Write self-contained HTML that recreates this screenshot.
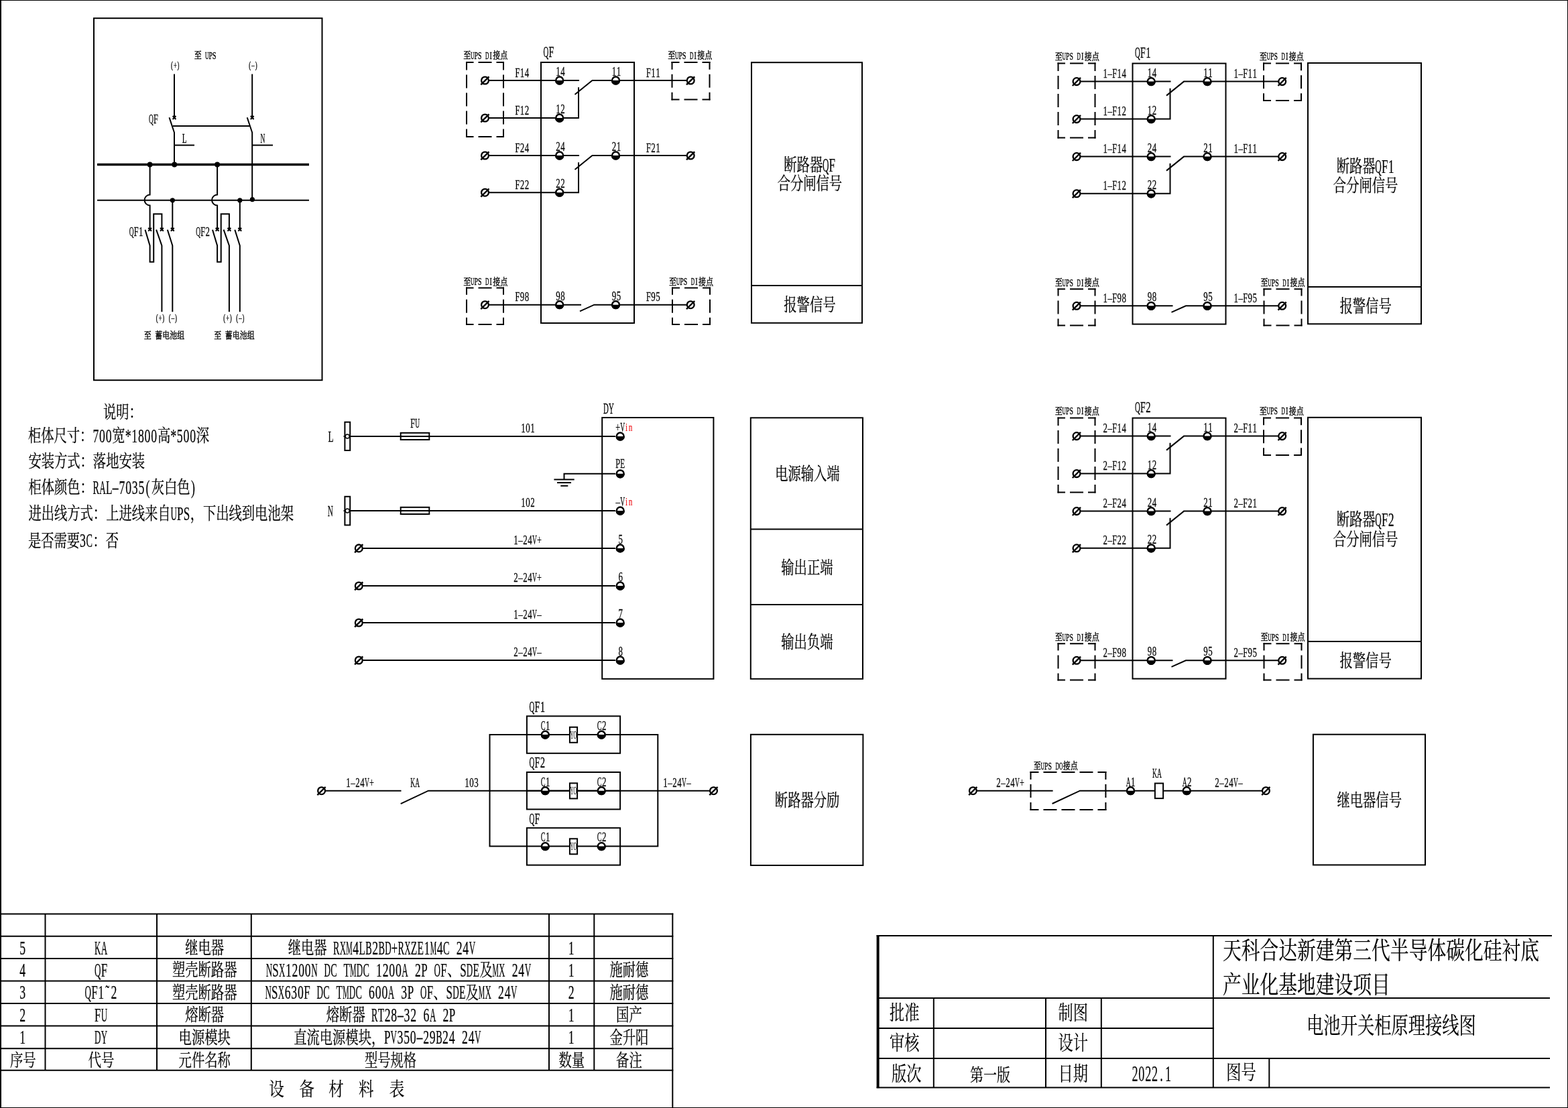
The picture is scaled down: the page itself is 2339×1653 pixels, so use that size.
<!DOCTYPE html>
<html lang="zh"><head><meta charset="utf-8"><title>电池开关柜原理接线图</title>
<style>
html,body{margin:0;padding:0;background:#fff}
svg{display:block;will-change:transform}
svg text{font-family:"Liberation Serif","Noto Serif CJK SC",serif;fill:#000;stroke:#000;stroke-linejoin:round}
svg .s{fill:none;stroke:#000;stroke-linecap:butt;stroke-linejoin:miter}
svg .g{fill:#000;stroke:#000;stroke-linejoin:round}
</style></head><body>
<svg width="2339" height="1653" viewBox="0 0 2339 1653">
<defs>
<g id="T"><circle r="5.4" fill="#fff" stroke="#000" stroke-width="2.5"/><path d="M-6.6 0A6.6 6.6 0 0 0 6.6 0Z" fill="#000" stroke="none"/></g>
<g id="P"><circle r="5.4" fill="#fff" stroke="#000" stroke-width="2.3"/><path d="M-6.2 6.4L6 -5.7" stroke="#000" stroke-width="2.4"/></g>
</defs>
<rect width="2339" height="1653" fill="#fff"/>
<g class="s">
<path d="M1 0V1653" stroke-width="2"/>
<path d="M0 0.5H2339" stroke-width="1"/>
<path d="M2338.5 0V1653" stroke-width="1"/>
<path d="M0 1652.5H2339" stroke-width="1"/>
<rect x="140" y="27.2" width="340.5" height="540" stroke-width="2"/>
<g role="img" aria-label="至 UPS"><title>至 UPS</title><text y="87.48" font-size="14" stroke-width="0.4"><tspan x="289.72" textLength="10.99" lengthAdjust="spacingAndGlyphs">至</tspan></text><text y="87.7" font-size="15.08" stroke-width="0.4"><tspan x="306.06" textLength="5.39" lengthAdjust="spacingAndGlyphs">U</tspan><tspan x="311.56" textLength="5.39" lengthAdjust="spacingAndGlyphs">P</tspan><tspan x="317.06" textLength="5.39" lengthAdjust="spacingAndGlyphs">S</tspan></text></g>
<text y="102" font-size="13.52" stroke-width="0.4"><tspan x="255.06" textLength="2.88" lengthAdjust="spacingAndGlyphs">(</tspan><tspan x="258.9" textLength="4.61" lengthAdjust="spacingAndGlyphs">+</tspan><tspan x="264.46" textLength="2.88" lengthAdjust="spacingAndGlyphs">)</tspan></text>
<text y="102" font-size="13.52" stroke-width="0.4"><tspan x="371.26" textLength="2.88" lengthAdjust="spacingAndGlyphs">(</tspan><tspan x="375.24" textLength="4.32" lengthAdjust="spacingAndGlyphs">–</tspan><tspan x="380.66" textLength="2.88" lengthAdjust="spacingAndGlyphs">)</tspan></text>
<path d="M260 110.5L260 174" stroke-width="2"/>
<path d="M376.2 110.5L376.2 174" stroke-width="2"/>
<path d="M257.6 173.1l4.8 4.8M262.4 173.1l-4.8 4.8" stroke-width="2.1"/>
<path d="M373.8 173.1l4.8 4.8M378.6 173.1l-4.8 4.8" stroke-width="2.1"/>
<path d="M252.5 175.2L260 197.8L260 245.5" stroke-width="2"/>
<path d="M368.7 175.2L376.2 197.8L376.2 297.4" stroke-width="2"/>
<path d="M257.7 188L372.3 188" stroke-width="2"/>
<path d="M260 216.6L290 216.6" stroke-width="2"/>
<path d="M376.2 216.6L407 216.6" stroke-width="2"/>
<text y="212.6" font-size="19.76" stroke-width="0.26"><tspan x="271.87" textLength="6.86" lengthAdjust="spacingAndGlyphs">L</tspan></text>
<text y="213.2" font-size="19.76" stroke-width="0.26"><tspan x="388.47" textLength="6.86" lengthAdjust="spacingAndGlyphs">N</tspan></text>
<text y="184.2" font-size="19.76" stroke-width="0.26"><tspan x="222.07" textLength="6.86" lengthAdjust="spacingAndGlyphs">Q</tspan><tspan x="229.07" textLength="6.86" lengthAdjust="spacingAndGlyphs">F</tspan></text>
<path d="M145 245.5L461 245.5" stroke-width="3.6"/>
<path d="M145 298.8L461 298.8" stroke-width="2"/>
<circle cx="223.6" cy="245.5" r="3.9" fill="#000" stroke="none"/>
<circle cx="260.2" cy="245.5" r="3.9" fill="#000" stroke="none"/>
<circle cx="324.1" cy="245.5" r="3.9" fill="#000" stroke="none"/>
<circle cx="257.3" cy="298.8" r="3.6" fill="#000" stroke="none"/>
<circle cx="357.8" cy="298.8" r="3.6" fill="#000" stroke="none"/>
<circle cx="376.4" cy="297.6" r="3.6" fill="#000" stroke="none"/>
<path d="M223.6 245.5V290.5A8 8 0 0 0 223.6 306.5V341" stroke-width="2"/>
<path d="M221.2 339.9l4.8 4.8M226 339.9l-4.8 4.8" stroke-width="2.1"/>
<path d="M239 339.9l4.8 4.8M243.8 339.9l-4.8 4.8" stroke-width="2.1"/>
<path d="M254.9 339.9l4.8 4.8M259.7 339.9l-4.8 4.8" stroke-width="2.1"/>
<path d="M216.5 342.7L223.6 366.4L223.6 390.8L229.2 390.8L229.2 319.2L241.4 319.2L241.4 341" stroke-width="2"/>
<path d="M233.1 342.7L241.4 366.4L241.4 465.2" stroke-width="2"/>
<path d="M249.8 342.7L257.3 366.4L257.3 465.2" stroke-width="2"/>
<path d="M257.3 298.8L257.3 341" stroke-width="2"/>
<text y="352.4" font-size="19.76" stroke-width="0.26"><tspan x="192.87" textLength="6.86" lengthAdjust="spacingAndGlyphs">Q</tspan><tspan x="199.87" textLength="6.86" lengthAdjust="spacingAndGlyphs">F</tspan><tspan x="207.08" textLength="6.44" lengthAdjust="spacingAndGlyphs">1</tspan></text>
<text y="478.6" font-size="13.52" stroke-width="0.4"><tspan x="232.86" textLength="2.88" lengthAdjust="spacingAndGlyphs">(</tspan><tspan x="236.7" textLength="4.61" lengthAdjust="spacingAndGlyphs">+</tspan><tspan x="242.26" textLength="2.88" lengthAdjust="spacingAndGlyphs">)</tspan></text>
<text y="478.6" font-size="13.52" stroke-width="0.4"><tspan x="251.66" textLength="2.88" lengthAdjust="spacingAndGlyphs">(</tspan><tspan x="255.64" textLength="4.32" lengthAdjust="spacingAndGlyphs">–</tspan><tspan x="261.06" textLength="2.88" lengthAdjust="spacingAndGlyphs">)</tspan></text>
<g role="img" aria-label="至 蓄电池组"><title>至 蓄电池组</title><text y="504.98" font-size="14" stroke-width="0.4"><tspan x="214.72" textLength="10.99" lengthAdjust="spacingAndGlyphs">至</tspan><tspan x="231.2" textLength="43.96" lengthAdjust="spacingAndGlyphs">蓄电池组</tspan></text></g>
<path d="M324.1 245.5V290.5A8 8 0 0 0 324.1 306.5V341" stroke-width="2"/>
<path d="M321.7 339.9l4.8 4.8M326.5 339.9l-4.8 4.8" stroke-width="2.1"/>
<path d="M339.5 339.9l4.8 4.8M344.3 339.9l-4.8 4.8" stroke-width="2.1"/>
<path d="M355.4 339.9l4.8 4.8M360.2 339.9l-4.8 4.8" stroke-width="2.1"/>
<path d="M317 342.7L324.1 366.4L324.1 390.8L329.7 390.8L329.7 319.2L341.9 319.2L341.9 341" stroke-width="2"/>
<path d="M333.6 342.7L341.9 366.4L341.9 465.2" stroke-width="2"/>
<path d="M350.3 342.7L357.8 366.4L357.8 465.2" stroke-width="2"/>
<path d="M357.8 298.8L357.8 341" stroke-width="2"/>
<text y="352.4" font-size="19.76" stroke-width="0.26"><tspan x="292.17" textLength="6.86" lengthAdjust="spacingAndGlyphs">Q</tspan><tspan x="299.17" textLength="6.86" lengthAdjust="spacingAndGlyphs">F</tspan><tspan x="306.38" textLength="6.44" lengthAdjust="spacingAndGlyphs">2</tspan></text>
<text y="478.6" font-size="13.52" stroke-width="0.4"><tspan x="333.36" textLength="2.88" lengthAdjust="spacingAndGlyphs">(</tspan><tspan x="337.2" textLength="4.61" lengthAdjust="spacingAndGlyphs">+</tspan><tspan x="342.76" textLength="2.88" lengthAdjust="spacingAndGlyphs">)</tspan></text>
<text y="478.6" font-size="13.52" stroke-width="0.4"><tspan x="352.16" textLength="2.88" lengthAdjust="spacingAndGlyphs">(</tspan><tspan x="356.14" textLength="4.32" lengthAdjust="spacingAndGlyphs">–</tspan><tspan x="361.56" textLength="2.88" lengthAdjust="spacingAndGlyphs">)</tspan></text>
<g role="img" aria-label="至 蓄电池组"><title>至 蓄电池组</title><text y="504.98" font-size="14" stroke-width="0.4"><tspan x="319.22" textLength="10.99" lengthAdjust="spacingAndGlyphs">至</tspan><tspan x="335.7" textLength="43.96" lengthAdjust="spacingAndGlyphs">蓄电池组</tspan></text></g>
<rect x="807" y="93" width="139" height="389" stroke-width="2"/>
<path d="M729.5 120L864 120" stroke-width="2"/>
<path d="M1024.6 120L883.5 120L857.5 141" stroke-width="2"/>
<path d="M863 130.2L863 176L729.5 176" stroke-width="2"/>
<path d="M729.5 232L864 232" stroke-width="2"/>
<path d="M1024.6 232L883.5 232L857.5 253" stroke-width="2"/>
<path d="M863 242.2L863 287.2L729.5 287.2" stroke-width="2"/>
<path d="M729.5 454.7L867 454.7" stroke-width="2"/>
<path d="M1024.6 454.7L886.4 454.7L865 464.3" stroke-width="2"/>
<use href="#T" x="834.7" y="120"/>
<use href="#P" x="723.5" y="120"/>
<use href="#T" x="834.7" y="176"/>
<use href="#P" x="723.5" y="176"/>
<use href="#T" x="834.7" y="232"/>
<use href="#P" x="723.5" y="232"/>
<use href="#T" x="834.7" y="287.2"/>
<use href="#P" x="723.5" y="287.2"/>
<use href="#T" x="834.7" y="454.7"/>
<use href="#P" x="723.5" y="454.7"/>
<use href="#T" x="918.5" y="120"/>
<use href="#P" x="1030.2" y="120"/>
<use href="#T" x="918.5" y="232"/>
<use href="#P" x="1030.2" y="232"/>
<use href="#T" x="918.5" y="454.7"/>
<use href="#P" x="1030.2" y="454.7"/>
<path d="M695 93L752 93" stroke-width="2" stroke-dasharray="20 7" stroke-dashoffset="8.5"/>
<path d="M695 204L752 204" stroke-width="2" stroke-dasharray="20 7" stroke-dashoffset="8.5"/>
<path d="M696 92L696 205" stroke-width="2" stroke-dasharray="20 7" stroke-dashoffset="7.5"/>
<path d="M751 92L751 205" stroke-width="2" stroke-dasharray="20 7" stroke-dashoffset="7.5"/>
<path d="M1001.5 93L1059.5 93" stroke-width="2" stroke-dasharray="20 7" stroke-dashoffset="8"/>
<path d="M1001.5 148.5L1059.5 148.5" stroke-width="2" stroke-dasharray="20 7" stroke-dashoffset="8"/>
<path d="M1002.5 92L1002.5 149.5" stroke-width="2" stroke-dasharray="20 7" stroke-dashoffset="8.25"/>
<path d="M1058.5 92L1058.5 149.5" stroke-width="2" stroke-dasharray="20 7" stroke-dashoffset="8.25"/>
<path d="M695 429.6L752 429.6" stroke-width="2" stroke-dasharray="20 7" stroke-dashoffset="8.5"/>
<path d="M695 484L752 484" stroke-width="2" stroke-dasharray="20 7" stroke-dashoffset="8.5"/>
<path d="M696 428.6L696 485" stroke-width="2" stroke-dasharray="20 7" stroke-dashoffset="8.8"/>
<path d="M751 428.6L751 485" stroke-width="2" stroke-dasharray="20 7" stroke-dashoffset="8.8"/>
<path d="M1002 429.6L1060 429.6" stroke-width="2" stroke-dasharray="20 7" stroke-dashoffset="8"/>
<path d="M1002 484L1060 484" stroke-width="2" stroke-dasharray="20 7" stroke-dashoffset="8"/>
<path d="M1003 428.6L1003 485" stroke-width="2" stroke-dasharray="20 7" stroke-dashoffset="8.8"/>
<path d="M1059 428.6L1059 485" stroke-width="2" stroke-dasharray="20 7" stroke-dashoffset="8.8"/>
<g role="img" aria-label="至UPS DI接点"><title>至UPS DI接点</title><text y="87.48" font-size="14" stroke-width="0.4"><tspan x="691.22" textLength="10.99" lengthAdjust="spacingAndGlyphs">至</tspan><tspan x="735.18" textLength="21.98" lengthAdjust="spacingAndGlyphs">接点</tspan></text><text y="87.7" font-size="15.08" stroke-width="0.4"><tspan x="702.05" textLength="5.39" lengthAdjust="spacingAndGlyphs">U</tspan><tspan x="707.55" textLength="5.39" lengthAdjust="spacingAndGlyphs">P</tspan><tspan x="713.05" textLength="5.39" lengthAdjust="spacingAndGlyphs">S</tspan><tspan x="724.05" textLength="5.39" lengthAdjust="spacingAndGlyphs">D</tspan><tspan x="730.56" textLength="3.37" lengthAdjust="spacingAndGlyphs">I</tspan></text></g>
<g role="img" aria-label="至UPS DI接点"><title>至UPS DI接点</title><text y="87.48" font-size="14" stroke-width="0.4"><tspan x="996.22" textLength="10.99" lengthAdjust="spacingAndGlyphs">至</tspan><tspan x="1040.18" textLength="21.98" lengthAdjust="spacingAndGlyphs">接点</tspan></text><text y="87.7" font-size="15.08" stroke-width="0.4"><tspan x="1007.05" textLength="5.39" lengthAdjust="spacingAndGlyphs">U</tspan><tspan x="1012.55" textLength="5.39" lengthAdjust="spacingAndGlyphs">P</tspan><tspan x="1018.05" textLength="5.39" lengthAdjust="spacingAndGlyphs">S</tspan><tspan x="1029.06" textLength="5.39" lengthAdjust="spacingAndGlyphs">D</tspan><tspan x="1035.56" textLength="3.37" lengthAdjust="spacingAndGlyphs">I</tspan></text></g>
<g role="img" aria-label="至UPS DI接点"><title>至UPS DI接点</title><text y="424.78" font-size="14" stroke-width="0.4"><tspan x="691.22" textLength="10.99" lengthAdjust="spacingAndGlyphs">至</tspan><tspan x="735.18" textLength="21.98" lengthAdjust="spacingAndGlyphs">接点</tspan></text><text y="425" font-size="15.08" stroke-width="0.4"><tspan x="702.05" textLength="5.39" lengthAdjust="spacingAndGlyphs">U</tspan><tspan x="707.55" textLength="5.39" lengthAdjust="spacingAndGlyphs">P</tspan><tspan x="713.05" textLength="5.39" lengthAdjust="spacingAndGlyphs">S</tspan><tspan x="724.05" textLength="5.39" lengthAdjust="spacingAndGlyphs">D</tspan><tspan x="730.56" textLength="3.37" lengthAdjust="spacingAndGlyphs">I</tspan></text></g>
<g role="img" aria-label="至UPS DI接点"><title>至UPS DI接点</title><text y="424.78" font-size="14" stroke-width="0.4"><tspan x="998.02" textLength="10.99" lengthAdjust="spacingAndGlyphs">至</tspan><tspan x="1041.98" textLength="21.98" lengthAdjust="spacingAndGlyphs">接点</tspan></text><text y="425" font-size="15.08" stroke-width="0.4"><tspan x="1008.85" textLength="5.39" lengthAdjust="spacingAndGlyphs">U</tspan><tspan x="1014.35" textLength="5.39" lengthAdjust="spacingAndGlyphs">P</tspan><tspan x="1019.85" textLength="5.39" lengthAdjust="spacingAndGlyphs">S</tspan><tspan x="1030.86" textLength="5.39" lengthAdjust="spacingAndGlyphs">D</tspan><tspan x="1037.36" textLength="3.37" lengthAdjust="spacingAndGlyphs">I</tspan></text></g>
<text y="84.5" font-size="22.88" stroke-width="0.26"><tspan x="810.58" textLength="7.84" lengthAdjust="spacingAndGlyphs">Q</tspan><tspan x="818.58" textLength="7.84" lengthAdjust="spacingAndGlyphs">F</tspan></text>
<text y="113" font-size="19.76" stroke-width="0.26"><tspan x="829.28" textLength="6.44" lengthAdjust="spacingAndGlyphs">1</tspan><tspan x="836.28" textLength="6.44" lengthAdjust="spacingAndGlyphs">4</tspan></text>
<text y="169" font-size="19.76" stroke-width="0.26"><tspan x="829.28" textLength="6.44" lengthAdjust="spacingAndGlyphs">1</tspan><tspan x="836.28" textLength="6.44" lengthAdjust="spacingAndGlyphs">2</tspan></text>
<text y="225" font-size="19.76" stroke-width="0.26"><tspan x="829.28" textLength="6.44" lengthAdjust="spacingAndGlyphs">2</tspan><tspan x="836.28" textLength="6.44" lengthAdjust="spacingAndGlyphs">4</tspan></text>
<text y="280.2" font-size="19.76" stroke-width="0.26"><tspan x="829.28" textLength="6.44" lengthAdjust="spacingAndGlyphs">2</tspan><tspan x="836.28" textLength="6.44" lengthAdjust="spacingAndGlyphs">2</tspan></text>
<text y="447.7" font-size="19.76" stroke-width="0.26"><tspan x="829.28" textLength="6.44" lengthAdjust="spacingAndGlyphs">9</tspan><tspan x="836.28" textLength="6.44" lengthAdjust="spacingAndGlyphs">8</tspan></text>
<text y="113" font-size="19.76" stroke-width="0.26"><tspan x="912.78" textLength="6.44" lengthAdjust="spacingAndGlyphs">1</tspan><tspan x="919.78" textLength="6.44" lengthAdjust="spacingAndGlyphs">1</tspan></text>
<text y="225" font-size="19.76" stroke-width="0.26"><tspan x="912.78" textLength="6.44" lengthAdjust="spacingAndGlyphs">2</tspan><tspan x="919.78" textLength="6.44" lengthAdjust="spacingAndGlyphs">1</tspan></text>
<text y="447.7" font-size="19.76" stroke-width="0.26"><tspan x="912.78" textLength="6.44" lengthAdjust="spacingAndGlyphs">9</tspan><tspan x="919.78" textLength="6.44" lengthAdjust="spacingAndGlyphs">5</tspan></text>
<text y="114.5" font-size="19.76" stroke-width="0.26"><tspan x="768.57" textLength="6.86" lengthAdjust="spacingAndGlyphs">F</tspan><tspan x="775.78" textLength="6.44" lengthAdjust="spacingAndGlyphs">1</tspan><tspan x="782.78" textLength="6.44" lengthAdjust="spacingAndGlyphs">4</tspan></text>
<text y="170.5" font-size="19.76" stroke-width="0.26"><tspan x="768.57" textLength="6.86" lengthAdjust="spacingAndGlyphs">F</tspan><tspan x="775.78" textLength="6.44" lengthAdjust="spacingAndGlyphs">1</tspan><tspan x="782.78" textLength="6.44" lengthAdjust="spacingAndGlyphs">2</tspan></text>
<text y="226.5" font-size="19.76" stroke-width="0.26"><tspan x="768.57" textLength="6.86" lengthAdjust="spacingAndGlyphs">F</tspan><tspan x="775.78" textLength="6.44" lengthAdjust="spacingAndGlyphs">2</tspan><tspan x="782.78" textLength="6.44" lengthAdjust="spacingAndGlyphs">4</tspan></text>
<text y="281.7" font-size="19.76" stroke-width="0.26"><tspan x="768.57" textLength="6.86" lengthAdjust="spacingAndGlyphs">F</tspan><tspan x="775.78" textLength="6.44" lengthAdjust="spacingAndGlyphs">2</tspan><tspan x="782.78" textLength="6.44" lengthAdjust="spacingAndGlyphs">2</tspan></text>
<text y="449.2" font-size="19.76" stroke-width="0.26"><tspan x="768.57" textLength="6.86" lengthAdjust="spacingAndGlyphs">F</tspan><tspan x="775.78" textLength="6.44" lengthAdjust="spacingAndGlyphs">9</tspan><tspan x="782.78" textLength="6.44" lengthAdjust="spacingAndGlyphs">8</tspan></text>
<text y="114.5" font-size="19.76" stroke-width="0.26"><tspan x="964.07" textLength="6.86" lengthAdjust="spacingAndGlyphs">F</tspan><tspan x="971.28" textLength="6.44" lengthAdjust="spacingAndGlyphs">1</tspan><tspan x="978.28" textLength="6.44" lengthAdjust="spacingAndGlyphs">1</tspan></text>
<text y="226.5" font-size="19.76" stroke-width="0.26"><tspan x="964.07" textLength="6.86" lengthAdjust="spacingAndGlyphs">F</tspan><tspan x="971.28" textLength="6.44" lengthAdjust="spacingAndGlyphs">2</tspan><tspan x="978.28" textLength="6.44" lengthAdjust="spacingAndGlyphs">1</tspan></text>
<text y="449.2" font-size="19.76" stroke-width="0.26"><tspan x="964.07" textLength="6.86" lengthAdjust="spacingAndGlyphs">F</tspan><tspan x="971.28" textLength="6.44" lengthAdjust="spacingAndGlyphs">9</tspan><tspan x="978.28" textLength="6.44" lengthAdjust="spacingAndGlyphs">5</tspan></text>
<rect x="1689.5" y="94.6" width="139" height="389" stroke-width="2"/>
<path d="M1612 121.6L1746.5 121.6" stroke-width="2"/>
<path d="M1907.1 121.6L1766 121.6L1740 142.6" stroke-width="2"/>
<path d="M1745.5 131.8L1745.5 177.6L1612 177.6" stroke-width="2"/>
<path d="M1612 233.6L1746.5 233.6" stroke-width="2"/>
<path d="M1907.1 233.6L1766 233.6L1740 254.6" stroke-width="2"/>
<path d="M1745.5 243.8L1745.5 288.8L1612 288.8" stroke-width="2"/>
<path d="M1612 456.3L1749.5 456.3" stroke-width="2"/>
<path d="M1907.1 456.3L1768.9 456.3L1747.5 465.9" stroke-width="2"/>
<use href="#T" x="1717.2" y="121.6"/>
<use href="#P" x="1606" y="121.6"/>
<use href="#T" x="1717.2" y="177.6"/>
<use href="#P" x="1606" y="177.6"/>
<use href="#T" x="1717.2" y="233.6"/>
<use href="#P" x="1606" y="233.6"/>
<use href="#T" x="1717.2" y="288.8"/>
<use href="#P" x="1606" y="288.8"/>
<use href="#T" x="1717.2" y="456.3"/>
<use href="#P" x="1606" y="456.3"/>
<use href="#T" x="1801" y="121.6"/>
<use href="#P" x="1912.7" y="121.6"/>
<use href="#T" x="1801" y="233.6"/>
<use href="#P" x="1912.7" y="233.6"/>
<use href="#T" x="1801" y="456.3"/>
<use href="#P" x="1912.7" y="456.3"/>
<path d="M1577.5 94.6L1634.5 94.6" stroke-width="2" stroke-dasharray="20 7" stroke-dashoffset="8.5"/>
<path d="M1577.5 205.6L1634.5 205.6" stroke-width="2" stroke-dasharray="20 7" stroke-dashoffset="8.5"/>
<path d="M1578.5 93.6L1578.5 206.6" stroke-width="2" stroke-dasharray="20 7" stroke-dashoffset="7.5"/>
<path d="M1633.5 93.6L1633.5 206.6" stroke-width="2" stroke-dasharray="20 7" stroke-dashoffset="7.5"/>
<path d="M1884 94.6L1942 94.6" stroke-width="2" stroke-dasharray="20 7" stroke-dashoffset="8"/>
<path d="M1884 150.1L1942 150.1" stroke-width="2" stroke-dasharray="20 7" stroke-dashoffset="8"/>
<path d="M1885 93.6L1885 151.1" stroke-width="2" stroke-dasharray="20 7" stroke-dashoffset="8.25"/>
<path d="M1941 93.6L1941 151.1" stroke-width="2" stroke-dasharray="20 7" stroke-dashoffset="8.25"/>
<path d="M1577.5 431.2L1634.5 431.2" stroke-width="2" stroke-dasharray="20 7" stroke-dashoffset="8.5"/>
<path d="M1577.5 485.6L1634.5 485.6" stroke-width="2" stroke-dasharray="20 7" stroke-dashoffset="8.5"/>
<path d="M1578.5 430.2L1578.5 486.6" stroke-width="2" stroke-dasharray="20 7" stroke-dashoffset="8.8"/>
<path d="M1633.5 430.2L1633.5 486.6" stroke-width="2" stroke-dasharray="20 7" stroke-dashoffset="8.8"/>
<path d="M1884.5 431.2L1942.5 431.2" stroke-width="2" stroke-dasharray="20 7" stroke-dashoffset="8"/>
<path d="M1884.5 485.6L1942.5 485.6" stroke-width="2" stroke-dasharray="20 7" stroke-dashoffset="8"/>
<path d="M1885.5 430.2L1885.5 486.6" stroke-width="2" stroke-dasharray="20 7" stroke-dashoffset="8.8"/>
<path d="M1941.5 430.2L1941.5 486.6" stroke-width="2" stroke-dasharray="20 7" stroke-dashoffset="8.8"/>
<g role="img" aria-label="至UPS DI接点"><title>至UPS DI接点</title><text y="89.08" font-size="14" stroke-width="0.4"><tspan x="1573.72" textLength="10.99" lengthAdjust="spacingAndGlyphs">至</tspan><tspan x="1617.68" textLength="21.98" lengthAdjust="spacingAndGlyphs">接点</tspan></text><text y="89.3" font-size="15.08" stroke-width="0.4"><tspan x="1584.56" textLength="5.39" lengthAdjust="spacingAndGlyphs">U</tspan><tspan x="1590.06" textLength="5.39" lengthAdjust="spacingAndGlyphs">P</tspan><tspan x="1595.56" textLength="5.39" lengthAdjust="spacingAndGlyphs">S</tspan><tspan x="1606.56" textLength="5.39" lengthAdjust="spacingAndGlyphs">D</tspan><tspan x="1613.06" textLength="3.37" lengthAdjust="spacingAndGlyphs">I</tspan></text></g>
<g role="img" aria-label="至UPS DI接点"><title>至UPS DI接点</title><text y="89.08" font-size="14" stroke-width="0.4"><tspan x="1878.72" textLength="10.99" lengthAdjust="spacingAndGlyphs">至</tspan><tspan x="1922.68" textLength="21.98" lengthAdjust="spacingAndGlyphs">接点</tspan></text><text y="89.3" font-size="15.08" stroke-width="0.4"><tspan x="1889.56" textLength="5.39" lengthAdjust="spacingAndGlyphs">U</tspan><tspan x="1895.06" textLength="5.39" lengthAdjust="spacingAndGlyphs">P</tspan><tspan x="1900.56" textLength="5.39" lengthAdjust="spacingAndGlyphs">S</tspan><tspan x="1911.56" textLength="5.39" lengthAdjust="spacingAndGlyphs">D</tspan><tspan x="1918.06" textLength="3.37" lengthAdjust="spacingAndGlyphs">I</tspan></text></g>
<g role="img" aria-label="至UPS DI接点"><title>至UPS DI接点</title><text y="426.38" font-size="14" stroke-width="0.4"><tspan x="1573.72" textLength="10.99" lengthAdjust="spacingAndGlyphs">至</tspan><tspan x="1617.68" textLength="21.98" lengthAdjust="spacingAndGlyphs">接点</tspan></text><text y="426.6" font-size="15.08" stroke-width="0.4"><tspan x="1584.56" textLength="5.39" lengthAdjust="spacingAndGlyphs">U</tspan><tspan x="1590.06" textLength="5.39" lengthAdjust="spacingAndGlyphs">P</tspan><tspan x="1595.56" textLength="5.39" lengthAdjust="spacingAndGlyphs">S</tspan><tspan x="1606.56" textLength="5.39" lengthAdjust="spacingAndGlyphs">D</tspan><tspan x="1613.06" textLength="3.37" lengthAdjust="spacingAndGlyphs">I</tspan></text></g>
<g role="img" aria-label="至UPS DI接点"><title>至UPS DI接点</title><text y="426.38" font-size="14" stroke-width="0.4"><tspan x="1880.52" textLength="10.99" lengthAdjust="spacingAndGlyphs">至</tspan><tspan x="1924.48" textLength="21.98" lengthAdjust="spacingAndGlyphs">接点</tspan></text><text y="426.6" font-size="15.08" stroke-width="0.4"><tspan x="1891.36" textLength="5.39" lengthAdjust="spacingAndGlyphs">U</tspan><tspan x="1896.86" textLength="5.39" lengthAdjust="spacingAndGlyphs">P</tspan><tspan x="1902.36" textLength="5.39" lengthAdjust="spacingAndGlyphs">S</tspan><tspan x="1913.36" textLength="5.39" lengthAdjust="spacingAndGlyphs">D</tspan><tspan x="1919.86" textLength="3.37" lengthAdjust="spacingAndGlyphs">I</tspan></text></g>
<text y="86.1" font-size="22.88" stroke-width="0.26"><tspan x="1693.08" textLength="7.84" lengthAdjust="spacingAndGlyphs">Q</tspan><tspan x="1701.08" textLength="7.84" lengthAdjust="spacingAndGlyphs">F</tspan><tspan x="1709.32" textLength="7.36" lengthAdjust="spacingAndGlyphs">1</tspan></text>
<text y="114.6" font-size="19.76" stroke-width="0.26"><tspan x="1711.78" textLength="6.44" lengthAdjust="spacingAndGlyphs">1</tspan><tspan x="1718.78" textLength="6.44" lengthAdjust="spacingAndGlyphs">4</tspan></text>
<text y="170.6" font-size="19.76" stroke-width="0.26"><tspan x="1711.78" textLength="6.44" lengthAdjust="spacingAndGlyphs">1</tspan><tspan x="1718.78" textLength="6.44" lengthAdjust="spacingAndGlyphs">2</tspan></text>
<text y="226.6" font-size="19.76" stroke-width="0.26"><tspan x="1711.78" textLength="6.44" lengthAdjust="spacingAndGlyphs">2</tspan><tspan x="1718.78" textLength="6.44" lengthAdjust="spacingAndGlyphs">4</tspan></text>
<text y="281.8" font-size="19.76" stroke-width="0.26"><tspan x="1711.78" textLength="6.44" lengthAdjust="spacingAndGlyphs">2</tspan><tspan x="1718.78" textLength="6.44" lengthAdjust="spacingAndGlyphs">2</tspan></text>
<text y="449.3" font-size="19.76" stroke-width="0.26"><tspan x="1711.78" textLength="6.44" lengthAdjust="spacingAndGlyphs">9</tspan><tspan x="1718.78" textLength="6.44" lengthAdjust="spacingAndGlyphs">8</tspan></text>
<text y="114.6" font-size="19.76" stroke-width="0.26"><tspan x="1795.28" textLength="6.44" lengthAdjust="spacingAndGlyphs">1</tspan><tspan x="1802.28" textLength="6.44" lengthAdjust="spacingAndGlyphs">1</tspan></text>
<text y="226.6" font-size="19.76" stroke-width="0.26"><tspan x="1795.28" textLength="6.44" lengthAdjust="spacingAndGlyphs">2</tspan><tspan x="1802.28" textLength="6.44" lengthAdjust="spacingAndGlyphs">1</tspan></text>
<text y="449.3" font-size="19.76" stroke-width="0.26"><tspan x="1795.28" textLength="6.44" lengthAdjust="spacingAndGlyphs">9</tspan><tspan x="1802.28" textLength="6.44" lengthAdjust="spacingAndGlyphs">5</tspan></text>
<text y="116.1" font-size="19.76" stroke-width="0.26"><tspan x="1645.38" textLength="6.44" lengthAdjust="spacingAndGlyphs">1</tspan><tspan x="1652.38" textLength="6.44" lengthAdjust="spacingAndGlyphs">–</tspan><tspan x="1659.17" textLength="6.86" lengthAdjust="spacingAndGlyphs">F</tspan><tspan x="1666.38" textLength="6.44" lengthAdjust="spacingAndGlyphs">1</tspan><tspan x="1673.38" textLength="6.44" lengthAdjust="spacingAndGlyphs">4</tspan></text>
<text y="172.1" font-size="19.76" stroke-width="0.26"><tspan x="1645.38" textLength="6.44" lengthAdjust="spacingAndGlyphs">1</tspan><tspan x="1652.38" textLength="6.44" lengthAdjust="spacingAndGlyphs">–</tspan><tspan x="1659.17" textLength="6.86" lengthAdjust="spacingAndGlyphs">F</tspan><tspan x="1666.38" textLength="6.44" lengthAdjust="spacingAndGlyphs">1</tspan><tspan x="1673.38" textLength="6.44" lengthAdjust="spacingAndGlyphs">2</tspan></text>
<text y="228.1" font-size="19.76" stroke-width="0.26"><tspan x="1645.38" textLength="6.44" lengthAdjust="spacingAndGlyphs">1</tspan><tspan x="1652.38" textLength="6.44" lengthAdjust="spacingAndGlyphs">–</tspan><tspan x="1659.17" textLength="6.86" lengthAdjust="spacingAndGlyphs">F</tspan><tspan x="1666.38" textLength="6.44" lengthAdjust="spacingAndGlyphs">1</tspan><tspan x="1673.38" textLength="6.44" lengthAdjust="spacingAndGlyphs">4</tspan></text>
<text y="283.3" font-size="19.76" stroke-width="0.26"><tspan x="1645.38" textLength="6.44" lengthAdjust="spacingAndGlyphs">1</tspan><tspan x="1652.38" textLength="6.44" lengthAdjust="spacingAndGlyphs">–</tspan><tspan x="1659.17" textLength="6.86" lengthAdjust="spacingAndGlyphs">F</tspan><tspan x="1666.38" textLength="6.44" lengthAdjust="spacingAndGlyphs">1</tspan><tspan x="1673.38" textLength="6.44" lengthAdjust="spacingAndGlyphs">2</tspan></text>
<text y="450.8" font-size="19.76" stroke-width="0.26"><tspan x="1645.38" textLength="6.44" lengthAdjust="spacingAndGlyphs">1</tspan><tspan x="1652.38" textLength="6.44" lengthAdjust="spacingAndGlyphs">–</tspan><tspan x="1659.17" textLength="6.86" lengthAdjust="spacingAndGlyphs">F</tspan><tspan x="1666.38" textLength="6.44" lengthAdjust="spacingAndGlyphs">9</tspan><tspan x="1673.38" textLength="6.44" lengthAdjust="spacingAndGlyphs">8</tspan></text>
<text y="116.1" font-size="19.76" stroke-width="0.26"><tspan x="1840.38" textLength="6.44" lengthAdjust="spacingAndGlyphs">1</tspan><tspan x="1847.38" textLength="6.44" lengthAdjust="spacingAndGlyphs">–</tspan><tspan x="1854.17" textLength="6.86" lengthAdjust="spacingAndGlyphs">F</tspan><tspan x="1861.38" textLength="6.44" lengthAdjust="spacingAndGlyphs">1</tspan><tspan x="1868.38" textLength="6.44" lengthAdjust="spacingAndGlyphs">1</tspan></text>
<text y="228.1" font-size="19.76" stroke-width="0.26"><tspan x="1840.38" textLength="6.44" lengthAdjust="spacingAndGlyphs">1</tspan><tspan x="1847.38" textLength="6.44" lengthAdjust="spacingAndGlyphs">–</tspan><tspan x="1854.17" textLength="6.86" lengthAdjust="spacingAndGlyphs">F</tspan><tspan x="1861.38" textLength="6.44" lengthAdjust="spacingAndGlyphs">1</tspan><tspan x="1868.38" textLength="6.44" lengthAdjust="spacingAndGlyphs">1</tspan></text>
<text y="450.8" font-size="19.76" stroke-width="0.26"><tspan x="1840.38" textLength="6.44" lengthAdjust="spacingAndGlyphs">1</tspan><tspan x="1847.38" textLength="6.44" lengthAdjust="spacingAndGlyphs">–</tspan><tspan x="1854.17" textLength="6.86" lengthAdjust="spacingAndGlyphs">F</tspan><tspan x="1861.38" textLength="6.44" lengthAdjust="spacingAndGlyphs">9</tspan><tspan x="1868.38" textLength="6.44" lengthAdjust="spacingAndGlyphs">5</tspan></text>
<rect x="1689.5" y="623.6" width="139" height="389" stroke-width="2"/>
<path d="M1612 650.6L1746.5 650.6" stroke-width="2"/>
<path d="M1907.1 650.6L1766 650.6L1740 671.6" stroke-width="2"/>
<path d="M1745.5 660.8L1745.5 706.6L1612 706.6" stroke-width="2"/>
<path d="M1612 762.6L1746.5 762.6" stroke-width="2"/>
<path d="M1907.1 762.6L1766 762.6L1740 783.6" stroke-width="2"/>
<path d="M1745.5 772.8L1745.5 817.8L1612 817.8" stroke-width="2"/>
<path d="M1612 985.3L1749.5 985.3" stroke-width="2"/>
<path d="M1907.1 985.3L1768.9 985.3L1747.5 994.9" stroke-width="2"/>
<use href="#T" x="1717.2" y="650.6"/>
<use href="#P" x="1606" y="650.6"/>
<use href="#T" x="1717.2" y="706.6"/>
<use href="#P" x="1606" y="706.6"/>
<use href="#T" x="1717.2" y="762.6"/>
<use href="#P" x="1606" y="762.6"/>
<use href="#T" x="1717.2" y="817.8"/>
<use href="#P" x="1606" y="817.8"/>
<use href="#T" x="1717.2" y="985.3"/>
<use href="#P" x="1606" y="985.3"/>
<use href="#T" x="1801" y="650.6"/>
<use href="#P" x="1912.7" y="650.6"/>
<use href="#T" x="1801" y="762.6"/>
<use href="#P" x="1912.7" y="762.6"/>
<use href="#T" x="1801" y="985.3"/>
<use href="#P" x="1912.7" y="985.3"/>
<path d="M1577.5 623.6L1634.5 623.6" stroke-width="2" stroke-dasharray="20 7" stroke-dashoffset="8.5"/>
<path d="M1577.5 734.6L1634.5 734.6" stroke-width="2" stroke-dasharray="20 7" stroke-dashoffset="8.5"/>
<path d="M1578.5 622.6L1578.5 735.6" stroke-width="2" stroke-dasharray="20 7" stroke-dashoffset="7.5"/>
<path d="M1633.5 622.6L1633.5 735.6" stroke-width="2" stroke-dasharray="20 7" stroke-dashoffset="7.5"/>
<path d="M1884 623.6L1942 623.6" stroke-width="2" stroke-dasharray="20 7" stroke-dashoffset="8"/>
<path d="M1884 679.1L1942 679.1" stroke-width="2" stroke-dasharray="20 7" stroke-dashoffset="8"/>
<path d="M1885 622.6L1885 680.1" stroke-width="2" stroke-dasharray="20 7" stroke-dashoffset="8.25"/>
<path d="M1941 622.6L1941 680.1" stroke-width="2" stroke-dasharray="20 7" stroke-dashoffset="8.25"/>
<path d="M1577.5 960.2L1634.5 960.2" stroke-width="2" stroke-dasharray="20 7" stroke-dashoffset="8.5"/>
<path d="M1577.5 1014.6L1634.5 1014.6" stroke-width="2" stroke-dasharray="20 7" stroke-dashoffset="8.5"/>
<path d="M1578.5 959.2L1578.5 1015.6" stroke-width="2" stroke-dasharray="20 7" stroke-dashoffset="8.8"/>
<path d="M1633.5 959.2L1633.5 1015.6" stroke-width="2" stroke-dasharray="20 7" stroke-dashoffset="8.8"/>
<path d="M1884.5 960.2L1942.5 960.2" stroke-width="2" stroke-dasharray="20 7" stroke-dashoffset="8"/>
<path d="M1884.5 1014.6L1942.5 1014.6" stroke-width="2" stroke-dasharray="20 7" stroke-dashoffset="8"/>
<path d="M1885.5 959.2L1885.5 1015.6" stroke-width="2" stroke-dasharray="20 7" stroke-dashoffset="8.8"/>
<path d="M1941.5 959.2L1941.5 1015.6" stroke-width="2" stroke-dasharray="20 7" stroke-dashoffset="8.8"/>
<g role="img" aria-label="至UPS DI接点"><title>至UPS DI接点</title><text y="618.08" font-size="14" stroke-width="0.4"><tspan x="1573.72" textLength="10.99" lengthAdjust="spacingAndGlyphs">至</tspan><tspan x="1617.68" textLength="21.98" lengthAdjust="spacingAndGlyphs">接点</tspan></text><text y="618.3" font-size="15.08" stroke-width="0.4"><tspan x="1584.56" textLength="5.39" lengthAdjust="spacingAndGlyphs">U</tspan><tspan x="1590.06" textLength="5.39" lengthAdjust="spacingAndGlyphs">P</tspan><tspan x="1595.56" textLength="5.39" lengthAdjust="spacingAndGlyphs">S</tspan><tspan x="1606.56" textLength="5.39" lengthAdjust="spacingAndGlyphs">D</tspan><tspan x="1613.06" textLength="3.37" lengthAdjust="spacingAndGlyphs">I</tspan></text></g>
<g role="img" aria-label="至UPS DI接点"><title>至UPS DI接点</title><text y="618.08" font-size="14" stroke-width="0.4"><tspan x="1878.72" textLength="10.99" lengthAdjust="spacingAndGlyphs">至</tspan><tspan x="1922.68" textLength="21.98" lengthAdjust="spacingAndGlyphs">接点</tspan></text><text y="618.3" font-size="15.08" stroke-width="0.4"><tspan x="1889.56" textLength="5.39" lengthAdjust="spacingAndGlyphs">U</tspan><tspan x="1895.06" textLength="5.39" lengthAdjust="spacingAndGlyphs">P</tspan><tspan x="1900.56" textLength="5.39" lengthAdjust="spacingAndGlyphs">S</tspan><tspan x="1911.56" textLength="5.39" lengthAdjust="spacingAndGlyphs">D</tspan><tspan x="1918.06" textLength="3.37" lengthAdjust="spacingAndGlyphs">I</tspan></text></g>
<g role="img" aria-label="至UPS DI接点"><title>至UPS DI接点</title><text y="955.38" font-size="14" stroke-width="0.4"><tspan x="1573.72" textLength="10.99" lengthAdjust="spacingAndGlyphs">至</tspan><tspan x="1617.68" textLength="21.98" lengthAdjust="spacingAndGlyphs">接点</tspan></text><text y="955.6" font-size="15.08" stroke-width="0.4"><tspan x="1584.56" textLength="5.39" lengthAdjust="spacingAndGlyphs">U</tspan><tspan x="1590.06" textLength="5.39" lengthAdjust="spacingAndGlyphs">P</tspan><tspan x="1595.56" textLength="5.39" lengthAdjust="spacingAndGlyphs">S</tspan><tspan x="1606.56" textLength="5.39" lengthAdjust="spacingAndGlyphs">D</tspan><tspan x="1613.06" textLength="3.37" lengthAdjust="spacingAndGlyphs">I</tspan></text></g>
<g role="img" aria-label="至UPS DI接点"><title>至UPS DI接点</title><text y="955.38" font-size="14" stroke-width="0.4"><tspan x="1880.52" textLength="10.99" lengthAdjust="spacingAndGlyphs">至</tspan><tspan x="1924.48" textLength="21.98" lengthAdjust="spacingAndGlyphs">接点</tspan></text><text y="955.6" font-size="15.08" stroke-width="0.4"><tspan x="1891.36" textLength="5.39" lengthAdjust="spacingAndGlyphs">U</tspan><tspan x="1896.86" textLength="5.39" lengthAdjust="spacingAndGlyphs">P</tspan><tspan x="1902.36" textLength="5.39" lengthAdjust="spacingAndGlyphs">S</tspan><tspan x="1913.36" textLength="5.39" lengthAdjust="spacingAndGlyphs">D</tspan><tspan x="1919.86" textLength="3.37" lengthAdjust="spacingAndGlyphs">I</tspan></text></g>
<text y="615.1" font-size="22.88" stroke-width="0.26"><tspan x="1693.08" textLength="7.84" lengthAdjust="spacingAndGlyphs">Q</tspan><tspan x="1701.08" textLength="7.84" lengthAdjust="spacingAndGlyphs">F</tspan><tspan x="1709.32" textLength="7.36" lengthAdjust="spacingAndGlyphs">2</tspan></text>
<text y="643.6" font-size="19.76" stroke-width="0.26"><tspan x="1711.78" textLength="6.44" lengthAdjust="spacingAndGlyphs">1</tspan><tspan x="1718.78" textLength="6.44" lengthAdjust="spacingAndGlyphs">4</tspan></text>
<text y="699.6" font-size="19.76" stroke-width="0.26"><tspan x="1711.78" textLength="6.44" lengthAdjust="spacingAndGlyphs">1</tspan><tspan x="1718.78" textLength="6.44" lengthAdjust="spacingAndGlyphs">2</tspan></text>
<text y="755.6" font-size="19.76" stroke-width="0.26"><tspan x="1711.78" textLength="6.44" lengthAdjust="spacingAndGlyphs">2</tspan><tspan x="1718.78" textLength="6.44" lengthAdjust="spacingAndGlyphs">4</tspan></text>
<text y="810.8" font-size="19.76" stroke-width="0.26"><tspan x="1711.78" textLength="6.44" lengthAdjust="spacingAndGlyphs">2</tspan><tspan x="1718.78" textLength="6.44" lengthAdjust="spacingAndGlyphs">2</tspan></text>
<text y="978.3" font-size="19.76" stroke-width="0.26"><tspan x="1711.78" textLength="6.44" lengthAdjust="spacingAndGlyphs">9</tspan><tspan x="1718.78" textLength="6.44" lengthAdjust="spacingAndGlyphs">8</tspan></text>
<text y="643.6" font-size="19.76" stroke-width="0.26"><tspan x="1795.28" textLength="6.44" lengthAdjust="spacingAndGlyphs">1</tspan><tspan x="1802.28" textLength="6.44" lengthAdjust="spacingAndGlyphs">1</tspan></text>
<text y="755.6" font-size="19.76" stroke-width="0.26"><tspan x="1795.28" textLength="6.44" lengthAdjust="spacingAndGlyphs">2</tspan><tspan x="1802.28" textLength="6.44" lengthAdjust="spacingAndGlyphs">1</tspan></text>
<text y="978.3" font-size="19.76" stroke-width="0.26"><tspan x="1795.28" textLength="6.44" lengthAdjust="spacingAndGlyphs">9</tspan><tspan x="1802.28" textLength="6.44" lengthAdjust="spacingAndGlyphs">5</tspan></text>
<text y="645.1" font-size="19.76" stroke-width="0.26"><tspan x="1645.38" textLength="6.44" lengthAdjust="spacingAndGlyphs">2</tspan><tspan x="1652.38" textLength="6.44" lengthAdjust="spacingAndGlyphs">–</tspan><tspan x="1659.17" textLength="6.86" lengthAdjust="spacingAndGlyphs">F</tspan><tspan x="1666.38" textLength="6.44" lengthAdjust="spacingAndGlyphs">1</tspan><tspan x="1673.38" textLength="6.44" lengthAdjust="spacingAndGlyphs">4</tspan></text>
<text y="701.1" font-size="19.76" stroke-width="0.26"><tspan x="1645.38" textLength="6.44" lengthAdjust="spacingAndGlyphs">2</tspan><tspan x="1652.38" textLength="6.44" lengthAdjust="spacingAndGlyphs">–</tspan><tspan x="1659.17" textLength="6.86" lengthAdjust="spacingAndGlyphs">F</tspan><tspan x="1666.38" textLength="6.44" lengthAdjust="spacingAndGlyphs">1</tspan><tspan x="1673.38" textLength="6.44" lengthAdjust="spacingAndGlyphs">2</tspan></text>
<text y="757.1" font-size="19.76" stroke-width="0.26"><tspan x="1645.38" textLength="6.44" lengthAdjust="spacingAndGlyphs">2</tspan><tspan x="1652.38" textLength="6.44" lengthAdjust="spacingAndGlyphs">–</tspan><tspan x="1659.17" textLength="6.86" lengthAdjust="spacingAndGlyphs">F</tspan><tspan x="1666.38" textLength="6.44" lengthAdjust="spacingAndGlyphs">2</tspan><tspan x="1673.38" textLength="6.44" lengthAdjust="spacingAndGlyphs">4</tspan></text>
<text y="812.3" font-size="19.76" stroke-width="0.26"><tspan x="1645.38" textLength="6.44" lengthAdjust="spacingAndGlyphs">2</tspan><tspan x="1652.38" textLength="6.44" lengthAdjust="spacingAndGlyphs">–</tspan><tspan x="1659.17" textLength="6.86" lengthAdjust="spacingAndGlyphs">F</tspan><tspan x="1666.38" textLength="6.44" lengthAdjust="spacingAndGlyphs">2</tspan><tspan x="1673.38" textLength="6.44" lengthAdjust="spacingAndGlyphs">2</tspan></text>
<text y="979.8" font-size="19.76" stroke-width="0.26"><tspan x="1645.38" textLength="6.44" lengthAdjust="spacingAndGlyphs">2</tspan><tspan x="1652.38" textLength="6.44" lengthAdjust="spacingAndGlyphs">–</tspan><tspan x="1659.17" textLength="6.86" lengthAdjust="spacingAndGlyphs">F</tspan><tspan x="1666.38" textLength="6.44" lengthAdjust="spacingAndGlyphs">9</tspan><tspan x="1673.38" textLength="6.44" lengthAdjust="spacingAndGlyphs">8</tspan></text>
<text y="645.1" font-size="19.76" stroke-width="0.26"><tspan x="1840.38" textLength="6.44" lengthAdjust="spacingAndGlyphs">2</tspan><tspan x="1847.38" textLength="6.44" lengthAdjust="spacingAndGlyphs">–</tspan><tspan x="1854.17" textLength="6.86" lengthAdjust="spacingAndGlyphs">F</tspan><tspan x="1861.38" textLength="6.44" lengthAdjust="spacingAndGlyphs">1</tspan><tspan x="1868.38" textLength="6.44" lengthAdjust="spacingAndGlyphs">1</tspan></text>
<text y="757.1" font-size="19.76" stroke-width="0.26"><tspan x="1840.38" textLength="6.44" lengthAdjust="spacingAndGlyphs">2</tspan><tspan x="1847.38" textLength="6.44" lengthAdjust="spacingAndGlyphs">–</tspan><tspan x="1854.17" textLength="6.86" lengthAdjust="spacingAndGlyphs">F</tspan><tspan x="1861.38" textLength="6.44" lengthAdjust="spacingAndGlyphs">2</tspan><tspan x="1868.38" textLength="6.44" lengthAdjust="spacingAndGlyphs">1</tspan></text>
<text y="979.8" font-size="19.76" stroke-width="0.26"><tspan x="1840.38" textLength="6.44" lengthAdjust="spacingAndGlyphs">2</tspan><tspan x="1847.38" textLength="6.44" lengthAdjust="spacingAndGlyphs">–</tspan><tspan x="1854.17" textLength="6.86" lengthAdjust="spacingAndGlyphs">F</tspan><tspan x="1861.38" textLength="6.44" lengthAdjust="spacingAndGlyphs">9</tspan><tspan x="1868.38" textLength="6.44" lengthAdjust="spacingAndGlyphs">5</tspan></text>
<rect x="1121" y="93.2" width="165" height="388.6" stroke-width="2"/>
<path d="M1121 426L1286 426" stroke-width="2"/>
<g role="img" aria-label="断路器QF"><title>断路器QF</title><text y="255.19" font-size="26" stroke-width="0.25"><tspan x="1169.29" textLength="57.9" lengthAdjust="spacingAndGlyphs">断路器</tspan></text><text y="255.6" font-size="29.76" stroke-width="0.24"><tspan x="1226.9" textLength="9.46" lengthAdjust="spacingAndGlyphs">Q</tspan><tspan x="1236.55" textLength="9.46" lengthAdjust="spacingAndGlyphs">F</tspan></text></g>
<g role="img" aria-label="合分闸信号"><title>合分闸信号</title><text y="282.99" font-size="26" stroke-width="0.25"><tspan x="1159.64" textLength="96.5" lengthAdjust="spacingAndGlyphs">合分闸信号</tspan></text></g>
<g role="img" aria-label="报警信号"><title>报警信号</title><text y="463.79" font-size="26" stroke-width="0.25"><tspan x="1169.29" textLength="77.2" lengthAdjust="spacingAndGlyphs">报警信号</tspan></text></g>
<rect x="1951" y="94" width="169" height="389.3" stroke-width="2"/>
<path d="M1951 427.9L2120 427.9" stroke-width="2"/>
<g role="img" aria-label="断路器QF1"><title>断路器QF1</title><text y="257.19" font-size="26" stroke-width="0.25"><tspan x="1993.66" textLength="57.9" lengthAdjust="spacingAndGlyphs">断路器</tspan></text><text y="257.6" font-size="29.76" stroke-width="0.24"><tspan x="2051.27" textLength="9.46" lengthAdjust="spacingAndGlyphs">Q</tspan><tspan x="2060.92" textLength="9.46" lengthAdjust="spacingAndGlyphs">F</tspan><tspan x="2070.86" textLength="8.88" lengthAdjust="spacingAndGlyphs">1</tspan></text></g>
<g role="img" aria-label="合分闸信号"><title>合分闸信号</title><text y="285.79" font-size="26" stroke-width="0.25"><tspan x="1988.84" textLength="96.5" lengthAdjust="spacingAndGlyphs">合分闸信号</tspan></text></g>
<g role="img" aria-label="报警信号"><title>报警信号</title><text y="465.79" font-size="26" stroke-width="0.25"><tspan x="1998.49" textLength="77.2" lengthAdjust="spacingAndGlyphs">报警信号</tspan></text></g>
<rect x="1951" y="622.8" width="169" height="389.7" stroke-width="2"/>
<path d="M1951 956.9L2120 956.9" stroke-width="2"/>
<g role="img" aria-label="断路器QF2"><title>断路器QF2</title><text y="784.19" font-size="26" stroke-width="0.25"><tspan x="1993.66" textLength="57.9" lengthAdjust="spacingAndGlyphs">断路器</tspan></text><text y="784.6" font-size="29.76" stroke-width="0.24"><tspan x="2051.27" textLength="9.46" lengthAdjust="spacingAndGlyphs">Q</tspan><tspan x="2060.92" textLength="9.46" lengthAdjust="spacingAndGlyphs">F</tspan><tspan x="2070.86" textLength="8.88" lengthAdjust="spacingAndGlyphs">2</tspan></text></g>
<g role="img" aria-label="合分闸信号"><title>合分闸信号</title><text y="813.59" font-size="26" stroke-width="0.25"><tspan x="1988.84" textLength="96.5" lengthAdjust="spacingAndGlyphs">合分闸信号</tspan></text></g>
<g role="img" aria-label="报警信号"><title>报警信号</title><text y="994.79" font-size="26" stroke-width="0.25"><tspan x="1998.49" textLength="77.2" lengthAdjust="spacingAndGlyphs">报警信号</tspan></text></g>
<rect x="898.2" y="623" width="166.2" height="389.8" stroke-width="2"/>
<use href="#T" x="925.2" y="651"/>
<use href="#T" x="925.2" y="706.8"/>
<use href="#T" x="925.2" y="762"/>
<use href="#T" x="925.2" y="817.9"/>
<use href="#T" x="925.2" y="874"/>
<use href="#T" x="925.2" y="929"/>
<use href="#T" x="925.2" y="985"/>
<path d="M513 651L918 651" stroke-width="2"/>
<rect x="514.4" y="629.7" width="7.8" height="42.3" stroke-width="2" fill="#fff"/>
<path d="M522.2 651L597 651" stroke-width="2"/>
<circle cx="518.2" cy="651" r="3" stroke-width="1.6" fill="#fff"/>
<rect x="597.7" y="645.8" width="42.6" height="10.2" stroke-width="2"/>
<path d="M512.6 651L515.5 651" stroke-width="2"/>
<path d="M513 762L918 762" stroke-width="2"/>
<rect x="514.4" y="740.8" width="7.8" height="42.6" stroke-width="2" fill="#fff"/>
<path d="M522.2 762L597 762" stroke-width="2"/>
<circle cx="518.2" cy="762" r="3" stroke-width="1.6" fill="#fff"/>
<rect x="597.7" y="756.8" width="42.6" height="10.2" stroke-width="2"/>
<path d="M512.6 762L515.5 762" stroke-width="2"/>
<path d="M918 706.8L841.5 706.8L841.5 715.4" stroke-width="2"/>
<path d="M826.4 715.4L856.7 715.4" stroke-width="2"/>
<path d="M831 720.1L852 720.1" stroke-width="2"/>
<path d="M836.3 724.8L847.3 724.8" stroke-width="2"/>
<use href="#P" x="535.3" y="817.9"/>
<path d="M541.2 817.9L918 817.9" stroke-width="2"/>
<use href="#P" x="535.3" y="874"/>
<path d="M541.2 874L918 874" stroke-width="2"/>
<use href="#P" x="535.3" y="929"/>
<path d="M541.2 929L918 929" stroke-width="2"/>
<use href="#P" x="535.3" y="985"/>
<path d="M541.2 985L918 985" stroke-width="2"/>
<text y="659" font-size="23.92" stroke-width="0.26"><tspan x="489.58" textLength="8.04" lengthAdjust="spacingAndGlyphs">L</tspan></text>
<text y="769.6" font-size="23.92" stroke-width="0.26"><tspan x="488.78" textLength="8.04" lengthAdjust="spacingAndGlyphs">N</tspan></text>
<text y="637.8" font-size="19.76" stroke-width="0.26"><tspan x="612.27" textLength="6.86" lengthAdjust="spacingAndGlyphs">F</tspan><tspan x="619.27" textLength="6.86" lengthAdjust="spacingAndGlyphs">U</tspan></text>
<text y="644.9" font-size="19.76" stroke-width="0.26"><tspan x="777.28" textLength="6.44" lengthAdjust="spacingAndGlyphs">1</tspan><tspan x="784.28" textLength="6.44" lengthAdjust="spacingAndGlyphs">0</tspan><tspan x="791.28" textLength="6.44" lengthAdjust="spacingAndGlyphs">1</tspan></text>
<text y="756.2" font-size="19.76" stroke-width="0.26"><tspan x="777.28" textLength="6.44" lengthAdjust="spacingAndGlyphs">1</tspan><tspan x="784.28" textLength="6.44" lengthAdjust="spacingAndGlyphs">0</tspan><tspan x="791.28" textLength="6.44" lengthAdjust="spacingAndGlyphs">2</tspan></text>
<text y="812.1" font-size="19.76" stroke-width="0.26"><tspan x="766.28" textLength="6.44" lengthAdjust="spacingAndGlyphs">1</tspan><tspan x="773.28" textLength="6.44" lengthAdjust="spacingAndGlyphs">–</tspan><tspan x="780.28" textLength="6.44" lengthAdjust="spacingAndGlyphs">2</tspan><tspan x="787.28" textLength="6.44" lengthAdjust="spacingAndGlyphs">4</tspan><tspan x="794.07" textLength="6.86" lengthAdjust="spacingAndGlyphs">V</tspan><tspan x="801.07" textLength="6.86" lengthAdjust="spacingAndGlyphs">+</tspan></text>
<text y="868.2" font-size="19.76" stroke-width="0.26"><tspan x="766.28" textLength="6.44" lengthAdjust="spacingAndGlyphs">2</tspan><tspan x="773.28" textLength="6.44" lengthAdjust="spacingAndGlyphs">–</tspan><tspan x="780.28" textLength="6.44" lengthAdjust="spacingAndGlyphs">2</tspan><tspan x="787.28" textLength="6.44" lengthAdjust="spacingAndGlyphs">4</tspan><tspan x="794.07" textLength="6.86" lengthAdjust="spacingAndGlyphs">V</tspan><tspan x="801.07" textLength="6.86" lengthAdjust="spacingAndGlyphs">+</tspan></text>
<text y="923.2" font-size="19.76" stroke-width="0.26"><tspan x="766.28" textLength="6.44" lengthAdjust="spacingAndGlyphs">1</tspan><tspan x="773.28" textLength="6.44" lengthAdjust="spacingAndGlyphs">–</tspan><tspan x="780.28" textLength="6.44" lengthAdjust="spacingAndGlyphs">2</tspan><tspan x="787.28" textLength="6.44" lengthAdjust="spacingAndGlyphs">4</tspan><tspan x="794.07" textLength="6.86" lengthAdjust="spacingAndGlyphs">V</tspan><tspan x="801.28" textLength="6.44" lengthAdjust="spacingAndGlyphs">–</tspan></text>
<text y="979.2" font-size="19.76" stroke-width="0.26"><tspan x="766.28" textLength="6.44" lengthAdjust="spacingAndGlyphs">2</tspan><tspan x="773.28" textLength="6.44" lengthAdjust="spacingAndGlyphs">–</tspan><tspan x="780.28" textLength="6.44" lengthAdjust="spacingAndGlyphs">2</tspan><tspan x="787.28" textLength="6.44" lengthAdjust="spacingAndGlyphs">4</tspan><tspan x="794.07" textLength="6.86" lengthAdjust="spacingAndGlyphs">V</tspan><tspan x="801.28" textLength="6.44" lengthAdjust="spacingAndGlyphs">–</tspan></text>
<text y="616.7" font-size="22.88" stroke-width="0.26"><tspan x="900.08" textLength="7.84" lengthAdjust="spacingAndGlyphs">D</tspan><tspan x="908.08" textLength="7.84" lengthAdjust="spacingAndGlyphs">Y</tspan></text>
<text y="643.6" font-size="19.76" stroke-width="0.26"><tspan x="918.27" textLength="6.86" lengthAdjust="spacingAndGlyphs">+</tspan><tspan x="925.27" textLength="6.86" lengthAdjust="spacingAndGlyphs">V</tspan></text>
<text y="643.3" font-size="17.19" stroke-width="0.2" style="fill:#ee1418;stroke:#ee1418"><tspan x="932.89" textLength="3.12" lengthAdjust="spacingAndGlyphs">i</tspan><tspan x="937.74" textLength="5.61" lengthAdjust="spacingAndGlyphs">n</tspan></text>
<text y="698.4" font-size="19.76" stroke-width="0.26"><tspan x="918.27" textLength="6.86" lengthAdjust="spacingAndGlyphs">P</tspan><tspan x="925.27" textLength="6.86" lengthAdjust="spacingAndGlyphs">E</tspan></text>
<text y="754.6" font-size="19.76" stroke-width="0.26"><tspan x="918.48" textLength="6.44" lengthAdjust="spacingAndGlyphs">–</tspan><tspan x="925.27" textLength="6.86" lengthAdjust="spacingAndGlyphs">V</tspan></text>
<text y="754.3" font-size="17.19" stroke-width="0.2" style="fill:#ee1418;stroke:#ee1418"><tspan x="932.89" textLength="3.12" lengthAdjust="spacingAndGlyphs">i</tspan><tspan x="937.74" textLength="5.61" lengthAdjust="spacingAndGlyphs">n</tspan></text>
<text y="810.5" font-size="19.76" stroke-width="0.26"><tspan x="922.48" textLength="6.44" lengthAdjust="spacingAndGlyphs">5</tspan></text>
<text y="866.6" font-size="19.76" stroke-width="0.26"><tspan x="922.48" textLength="6.44" lengthAdjust="spacingAndGlyphs">6</tspan></text>
<text y="921.6" font-size="19.76" stroke-width="0.26"><tspan x="922.48" textLength="6.44" lengthAdjust="spacingAndGlyphs">7</tspan></text>
<text y="977.6" font-size="19.76" stroke-width="0.26"><tspan x="922.48" textLength="6.44" lengthAdjust="spacingAndGlyphs">8</tspan></text>
<rect x="1119.8" y="623.3" width="167.2" height="389.5" stroke-width="2"/>
<path d="M1119.8 789.6L1287 789.6" stroke-width="2"/>
<path d="M1119.8 901.9L1287 901.9" stroke-width="2"/>
<g role="img" aria-label="电源输入端"><title>电源输入端</title><text y="716.49" font-size="26" stroke-width="0.25"><tspan x="1156.14" textLength="96.5" lengthAdjust="spacingAndGlyphs">电源输入端</tspan></text></g>
<g role="img" aria-label="输出正端"><title>输出正端</title><text y="855.99" font-size="26" stroke-width="0.25"><tspan x="1165.29" textLength="77.2" lengthAdjust="spacingAndGlyphs">输出正端</tspan></text></g>
<g role="img" aria-label="输出负端"><title>输出负端</title><text y="967.39" font-size="26" stroke-width="0.25"><tspan x="1165.29" textLength="77.2" lengthAdjust="spacingAndGlyphs">输出负端</tspan></text></g>
<use href="#P" x="479.6" y="1179.7"/>
<path d="M485.4 1179.7L598.5 1179.7" stroke-width="2"/>
<path d="M597.7 1199.1L639 1179.7L1058.8 1179.7" stroke-width="2"/>
<use href="#P" x="1064.5" y="1179.7"/>
<path d="M786 1096.1L730.5 1096.1L730.5 1262.6L786 1262.6" stroke-width="2"/>
<path d="M925 1096.1L981.3 1096.1L981.3 1262.6L925 1262.6" stroke-width="2"/>
<rect x="785.9" y="1068.4" width="139.2" height="55.4" stroke-width="2"/>
<path d="M785.9 1096.1L925.1 1096.1" stroke-width="2"/>
<use href="#T" x="813.3" y="1096.1"/>
<use href="#T" x="897.2" y="1096.1"/>
<rect x="849.9" y="1084.8" width="11.2" height="23" stroke-width="2" fill="#fff"/>
<text y="1101.7" font-size="16.64" stroke-width="0.12"><tspan x="850.75" textLength="4.7" lengthAdjust="spacingAndGlyphs">Y</tspan><tspan x="855.55" textLength="4.7" lengthAdjust="spacingAndGlyphs">O</tspan></text>
<text y="1061.8" font-size="22.88" stroke-width="0.26"><tspan x="789.58" textLength="7.84" lengthAdjust="spacingAndGlyphs">Q</tspan><tspan x="797.58" textLength="7.84" lengthAdjust="spacingAndGlyphs">F</tspan><tspan x="805.82" textLength="7.36" lengthAdjust="spacingAndGlyphs">1</tspan></text>
<text y="1088.9" font-size="19.76" stroke-width="0.26"><tspan x="806.67" textLength="6.86" lengthAdjust="spacingAndGlyphs">C</tspan><tspan x="813.88" textLength="6.44" lengthAdjust="spacingAndGlyphs">1</tspan></text>
<text y="1088.9" font-size="19.76" stroke-width="0.26"><tspan x="890.87" textLength="6.86" lengthAdjust="spacingAndGlyphs">C</tspan><tspan x="898.08" textLength="6.44" lengthAdjust="spacingAndGlyphs">2</tspan></text>
<rect x="785.9" y="1152" width="139.2" height="55.4" stroke-width="2"/>
<path d="M785.9 1179.7L925.1 1179.7" stroke-width="2"/>
<use href="#T" x="813.3" y="1179.7"/>
<use href="#T" x="897.2" y="1179.7"/>
<rect x="849.9" y="1168.4" width="11.2" height="23" stroke-width="2" fill="#fff"/>
<text y="1185.3" font-size="16.64" stroke-width="0.12"><tspan x="850.75" textLength="4.7" lengthAdjust="spacingAndGlyphs">Y</tspan><tspan x="855.55" textLength="4.7" lengthAdjust="spacingAndGlyphs">O</tspan></text>
<text y="1145.4" font-size="22.88" stroke-width="0.26"><tspan x="789.58" textLength="7.84" lengthAdjust="spacingAndGlyphs">Q</tspan><tspan x="797.58" textLength="7.84" lengthAdjust="spacingAndGlyphs">F</tspan><tspan x="805.82" textLength="7.36" lengthAdjust="spacingAndGlyphs">2</tspan></text>
<text y="1172.5" font-size="19.76" stroke-width="0.26"><tspan x="806.67" textLength="6.86" lengthAdjust="spacingAndGlyphs">C</tspan><tspan x="813.88" textLength="6.44" lengthAdjust="spacingAndGlyphs">1</tspan></text>
<text y="1172.5" font-size="19.76" stroke-width="0.26"><tspan x="890.87" textLength="6.86" lengthAdjust="spacingAndGlyphs">C</tspan><tspan x="898.08" textLength="6.44" lengthAdjust="spacingAndGlyphs">2</tspan></text>
<rect x="785.9" y="1235.2" width="139.2" height="55.4" stroke-width="2"/>
<path d="M785.9 1262.6L925.1 1262.6" stroke-width="2"/>
<use href="#T" x="813.3" y="1262.6"/>
<use href="#T" x="897.2" y="1262.6"/>
<rect x="849.9" y="1251.3" width="11.2" height="23" stroke-width="2" fill="#fff"/>
<text y="1268.2" font-size="16.64" stroke-width="0.12"><tspan x="850.75" textLength="4.7" lengthAdjust="spacingAndGlyphs">Y</tspan><tspan x="855.55" textLength="4.7" lengthAdjust="spacingAndGlyphs">O</tspan></text>
<text y="1228.6" font-size="22.88" stroke-width="0.26"><tspan x="789.58" textLength="7.84" lengthAdjust="spacingAndGlyphs">Q</tspan><tspan x="797.58" textLength="7.84" lengthAdjust="spacingAndGlyphs">F</tspan></text>
<text y="1255.4" font-size="19.76" stroke-width="0.26"><tspan x="806.67" textLength="6.86" lengthAdjust="spacingAndGlyphs">C</tspan><tspan x="813.88" textLength="6.44" lengthAdjust="spacingAndGlyphs">1</tspan></text>
<text y="1255.4" font-size="19.76" stroke-width="0.26"><tspan x="890.87" textLength="6.86" lengthAdjust="spacingAndGlyphs">C</tspan><tspan x="898.08" textLength="6.44" lengthAdjust="spacingAndGlyphs">2</tspan></text>
<text y="1174.3" font-size="19.76" stroke-width="0.26"><tspan x="516.28" textLength="6.44" lengthAdjust="spacingAndGlyphs">1</tspan><tspan x="523.28" textLength="6.44" lengthAdjust="spacingAndGlyphs">–</tspan><tspan x="530.28" textLength="6.44" lengthAdjust="spacingAndGlyphs">2</tspan><tspan x="537.28" textLength="6.44" lengthAdjust="spacingAndGlyphs">4</tspan><tspan x="544.07" textLength="6.86" lengthAdjust="spacingAndGlyphs">V</tspan><tspan x="551.07" textLength="6.86" lengthAdjust="spacingAndGlyphs">+</tspan></text>
<text y="1173.6" font-size="19.76" stroke-width="0.26"><tspan x="612.27" textLength="6.86" lengthAdjust="spacingAndGlyphs">K</tspan><tspan x="619.27" textLength="6.86" lengthAdjust="spacingAndGlyphs">A</tspan></text>
<text y="1174.3" font-size="19.76" stroke-width="0.26"><tspan x="693.28" textLength="6.44" lengthAdjust="spacingAndGlyphs">1</tspan><tspan x="700.28" textLength="6.44" lengthAdjust="spacingAndGlyphs">0</tspan><tspan x="707.28" textLength="6.44" lengthAdjust="spacingAndGlyphs">3</tspan></text>
<text y="1174.3" font-size="19.76" stroke-width="0.26"><tspan x="989.28" textLength="6.44" lengthAdjust="spacingAndGlyphs">1</tspan><tspan x="996.28" textLength="6.44" lengthAdjust="spacingAndGlyphs">–</tspan><tspan x="1003.28" textLength="6.44" lengthAdjust="spacingAndGlyphs">2</tspan><tspan x="1010.28" textLength="6.44" lengthAdjust="spacingAndGlyphs">4</tspan><tspan x="1017.07" textLength="6.86" lengthAdjust="spacingAndGlyphs">V</tspan><tspan x="1024.28" textLength="6.44" lengthAdjust="spacingAndGlyphs">–</tspan></text>
<rect x="1119.9" y="1095.8" width="167.5" height="195.2" stroke-width="2"/>
<g role="img" aria-label="断路器分励"><title>断路器分励</title><text y="1202.59" font-size="26" stroke-width="0.25"><tspan x="1155.84" textLength="96.5" lengthAdjust="spacingAndGlyphs">断路器分励</tspan></text></g>
<use href="#P" x="1451.4" y="1179.7"/>
<path d="M1457.2 1179.7L1570.6 1179.7" stroke-width="2"/>
<path d="M1569.6 1199L1611 1179.7L1882.6 1179.7" stroke-width="2"/>
<use href="#P" x="1888.4" y="1179.7"/>
<path d="M1536.5 1152L1650.4 1152" stroke-width="2" stroke-dasharray="20 7" stroke-dashoffset="7.05"/>
<path d="M1536.5 1208L1650.4 1208" stroke-width="2" stroke-dasharray="20 7" stroke-dashoffset="7.05"/>
<path d="M1537.5 1151L1537.5 1209" stroke-width="2" stroke-dasharray="20 7" stroke-dashoffset="8"/>
<path d="M1649.4 1151L1649.4 1209" stroke-width="2" stroke-dasharray="20 7" stroke-dashoffset="8"/>
<use href="#T" x="1686.5" y="1179.7"/>
<use href="#T" x="1770.2" y="1179.7"/>
<rect x="1722.9" y="1168.6" width="12.2" height="22.5" stroke-width="2" fill="#fff"/>
<g role="img" aria-label="至UPS DO接点"><title>至UPS DO接点</title><text y="1147.38" font-size="14" stroke-width="0.4"><tspan x="1541.72" textLength="10.99" lengthAdjust="spacingAndGlyphs">至</tspan><tspan x="1585.68" textLength="21.98" lengthAdjust="spacingAndGlyphs">接点</tspan></text><text y="1147.6" font-size="15.08" stroke-width="0.4"><tspan x="1552.56" textLength="5.39" lengthAdjust="spacingAndGlyphs">U</tspan><tspan x="1558.06" textLength="5.39" lengthAdjust="spacingAndGlyphs">P</tspan><tspan x="1563.56" textLength="5.39" lengthAdjust="spacingAndGlyphs">S</tspan><tspan x="1574.56" textLength="5.39" lengthAdjust="spacingAndGlyphs">D</tspan><tspan x="1580.06" textLength="5.39" lengthAdjust="spacingAndGlyphs">O</tspan></text></g>
<text y="1174.3" font-size="19.76" stroke-width="0.26"><tspan x="1486.28" textLength="6.44" lengthAdjust="spacingAndGlyphs">2</tspan><tspan x="1493.28" textLength="6.44" lengthAdjust="spacingAndGlyphs">–</tspan><tspan x="1500.28" textLength="6.44" lengthAdjust="spacingAndGlyphs">2</tspan><tspan x="1507.28" textLength="6.44" lengthAdjust="spacingAndGlyphs">4</tspan><tspan x="1514.07" textLength="6.86" lengthAdjust="spacingAndGlyphs">V</tspan><tspan x="1521.07" textLength="6.86" lengthAdjust="spacingAndGlyphs">+</tspan></text>
<text y="1172.5" font-size="19.76" stroke-width="0.26"><tspan x="1679.67" textLength="6.86" lengthAdjust="spacingAndGlyphs">A</tspan><tspan x="1686.88" textLength="6.44" lengthAdjust="spacingAndGlyphs">1</tspan></text>
<text y="1160" font-size="19.76" stroke-width="0.26"><tspan x="1719.07" textLength="6.86" lengthAdjust="spacingAndGlyphs">K</tspan><tspan x="1726.07" textLength="6.86" lengthAdjust="spacingAndGlyphs">A</tspan></text>
<text y="1172.5" font-size="19.76" stroke-width="0.26"><tspan x="1763.87" textLength="6.86" lengthAdjust="spacingAndGlyphs">A</tspan><tspan x="1771.08" textLength="6.44" lengthAdjust="spacingAndGlyphs">2</tspan></text>
<text y="1174.3" font-size="19.76" stroke-width="0.26"><tspan x="1812.28" textLength="6.44" lengthAdjust="spacingAndGlyphs">2</tspan><tspan x="1819.28" textLength="6.44" lengthAdjust="spacingAndGlyphs">–</tspan><tspan x="1826.28" textLength="6.44" lengthAdjust="spacingAndGlyphs">2</tspan><tspan x="1833.28" textLength="6.44" lengthAdjust="spacingAndGlyphs">4</tspan><tspan x="1840.07" textLength="6.86" lengthAdjust="spacingAndGlyphs">V</tspan><tspan x="1847.28" textLength="6.44" lengthAdjust="spacingAndGlyphs">–</tspan></text>
<rect x="1958.9" y="1095.7" width="167.1" height="194.7" stroke-width="2"/>
<g role="img" aria-label="继电器信号"><title>继电器信号</title><text y="1203.19" font-size="26" stroke-width="0.25"><tspan x="1994.44" textLength="96.5" lengthAdjust="spacingAndGlyphs">继电器信号</tspan></text></g>
<g role="img" aria-label="说明："><title>说明：</title><text y="623.99" font-size="26" stroke-width="0.25"><tspan x="153.89" textLength="57.9" lengthAdjust="spacingAndGlyphs">说明：</tspan></text></g>
<g role="img" aria-label="柜体尺寸：700宽*1800高*500深"><title>柜体尺寸：700宽*1800高*500深</title><text y="659.49" font-size="26" stroke-width="0.25"><tspan x="41.89" textLength="96.5" lengthAdjust="spacingAndGlyphs">柜体尺寸：</tspan><tspan x="167.34" textLength="19.3" lengthAdjust="spacingAndGlyphs">宽</tspan><tspan x="234.89" textLength="19.3" lengthAdjust="spacingAndGlyphs">高</tspan><tspan x="292.79" textLength="19.3" lengthAdjust="spacingAndGlyphs">深</tspan></text><text y="659.9" font-size="29.76" stroke-width="0.24"><tspan x="138.39" textLength="8.88" lengthAdjust="spacingAndGlyphs">7</tspan><tspan x="148.04" textLength="8.88" lengthAdjust="spacingAndGlyphs">0</tspan><tspan x="157.69" textLength="8.88" lengthAdjust="spacingAndGlyphs">0</tspan><tspan x="186.64" textLength="8.88" lengthAdjust="spacingAndGlyphs">*</tspan><tspan x="196.29" textLength="8.88" lengthAdjust="spacingAndGlyphs">1</tspan><tspan x="205.94" textLength="8.88" lengthAdjust="spacingAndGlyphs">8</tspan><tspan x="215.59" textLength="8.88" lengthAdjust="spacingAndGlyphs">0</tspan><tspan x="225.24" textLength="8.88" lengthAdjust="spacingAndGlyphs">0</tspan><tspan x="254.19" textLength="8.88" lengthAdjust="spacingAndGlyphs">*</tspan><tspan x="263.84" textLength="8.88" lengthAdjust="spacingAndGlyphs">5</tspan><tspan x="273.49" textLength="8.88" lengthAdjust="spacingAndGlyphs">0</tspan><tspan x="283.14" textLength="8.88" lengthAdjust="spacingAndGlyphs">0</tspan></text></g>
<g role="img" aria-label="安装方式：落地安装"><title>安装方式：落地安装</title><text y="696.79" font-size="26" stroke-width="0.25"><tspan x="42.39" textLength="173.7" lengthAdjust="spacingAndGlyphs">安装方式：落地安装</tspan></text></g>
<g role="img" aria-label="柜体颜色：RAL-7035(灰白色)"><title>柜体颜色：RAL-7035(灰白色)</title><text y="736.09" font-size="26" stroke-width="0.25"><tspan x="42.39" textLength="96.5" lengthAdjust="spacingAndGlyphs">柜体颜色：</tspan><tspan x="225.74" textLength="57.9" lengthAdjust="spacingAndGlyphs">灰白色</tspan></text><text y="736.5" font-size="29.76" stroke-width="0.24"><tspan x="138.6" textLength="9.46" lengthAdjust="spacingAndGlyphs">R</tspan><tspan x="148.25" textLength="9.46" lengthAdjust="spacingAndGlyphs">A</tspan><tspan x="157.9" textLength="9.46" lengthAdjust="spacingAndGlyphs">L</tspan><tspan x="167.84" textLength="8.88" lengthAdjust="spacingAndGlyphs">–</tspan><tspan x="177.49" textLength="8.88" lengthAdjust="spacingAndGlyphs">7</tspan><tspan x="187.14" textLength="8.88" lengthAdjust="spacingAndGlyphs">0</tspan><tspan x="196.79" textLength="8.88" lengthAdjust="spacingAndGlyphs">3</tspan><tspan x="206.44" textLength="8.88" lengthAdjust="spacingAndGlyphs">5</tspan><tspan x="217.57" textLength="5.91" lengthAdjust="spacingAndGlyphs">(</tspan><tspan x="285.12" textLength="5.91" lengthAdjust="spacingAndGlyphs">)</tspan></text></g>
<g role="img" aria-label="进出线方式：上进线来自UPS，下出线到电池架"><title>进出线方式：上进线来自UPS，下出线到电池架</title><text y="775.39" font-size="26" stroke-width="0.25"><tspan x="42.39" textLength="212.3" lengthAdjust="spacingAndGlyphs">进出线方式：上进线来自</tspan><tspan x="283.64" textLength="154.4" lengthAdjust="spacingAndGlyphs">，下出线到电池架</tspan></text><text y="775.8" font-size="29.76" stroke-width="0.24"><tspan x="254.4" textLength="9.46" lengthAdjust="spacingAndGlyphs">U</tspan><tspan x="264.05" textLength="9.46" lengthAdjust="spacingAndGlyphs">P</tspan><tspan x="273.7" textLength="9.46" lengthAdjust="spacingAndGlyphs">S</tspan></text></g>
<g role="img" aria-label="是否需要3C：否"><title>是否需要3C：否</title><text y="815.59" font-size="26" stroke-width="0.25"><tspan x="41.89" textLength="77.2" lengthAdjust="spacingAndGlyphs">是否需要</tspan><tspan x="138.39" textLength="38.6" lengthAdjust="spacingAndGlyphs">：否</tspan></text><text y="816" font-size="29.76" stroke-width="0.24"><tspan x="119.09" textLength="8.88" lengthAdjust="spacingAndGlyphs">3</tspan><tspan x="128.45" textLength="9.46" lengthAdjust="spacingAndGlyphs">C</tspan></text></g>
<path d="M0 1363.5L1004.3 1363.5" stroke-width="2"/>
<path d="M0 1396.7L1004.3 1396.7" stroke-width="2"/>
<path d="M0 1430L1004.3 1430" stroke-width="2"/>
<path d="M0 1463.6L1004.3 1463.6" stroke-width="2"/>
<path d="M0 1496.9L1004.3 1496.9" stroke-width="2"/>
<path d="M0 1530.6L1004.3 1530.6" stroke-width="2"/>
<path d="M0 1564.2L1004.3 1564.2" stroke-width="2"/>
<path d="M0 1596.8L1004.3 1596.8" stroke-width="2"/>
<path d="M67.5 1363.5L67.5 1596.8" stroke-width="2"/>
<path d="M234 1363.5L234 1596.8" stroke-width="2"/>
<path d="M374.8 1363.5L374.8 1596.8" stroke-width="2"/>
<path d="M819 1363.5L819 1596.8" stroke-width="2"/>
<path d="M886.3 1363.5L886.3 1596.8" stroke-width="2"/>
<path d="M1003.3 1362.5L1003.3 1653" stroke-width="2"/>
<text y="1423.5" font-size="29.76" stroke-width="0.24"><tspan x="29.36" textLength="8.88" lengthAdjust="spacingAndGlyphs">5</tspan></text>
<text y="1423.5" font-size="29.76" stroke-width="0.24"><tspan x="141.05" textLength="9.46" lengthAdjust="spacingAndGlyphs">K</tspan><tspan x="150.7" textLength="9.46" lengthAdjust="spacingAndGlyphs">A</tspan></text>
<g role="img" aria-label="继电器"><title>继电器</title><text y="1423.09" font-size="26" stroke-width="0.25"><tspan x="276.24" textLength="57.9" lengthAdjust="spacingAndGlyphs">继电器</tspan></text></g>
<g role="img" aria-label="继电器 RXM4LB2BD+RXZE1M4C 24V"><title>继电器 RXM4LB2BD+RXZE1M4C 24V</title><text y="1423.09" font-size="26" stroke-width="0.25"><tspan x="429.76" textLength="57.9" lengthAdjust="spacingAndGlyphs">继电器</tspan></text><text y="1423.5" font-size="29.76" stroke-width="0.24"><tspan x="497.02" textLength="9.46" lengthAdjust="spacingAndGlyphs">R</tspan><tspan x="506.67" textLength="9.46" lengthAdjust="spacingAndGlyphs">X</tspan><tspan x="516.32" textLength="9.46" lengthAdjust="spacingAndGlyphs">M</tspan><tspan x="526.26" textLength="8.88" lengthAdjust="spacingAndGlyphs">4</tspan><tspan x="535.62" textLength="9.46" lengthAdjust="spacingAndGlyphs">L</tspan><tspan x="545.27" textLength="9.46" lengthAdjust="spacingAndGlyphs">B</tspan><tspan x="555.21" textLength="8.88" lengthAdjust="spacingAndGlyphs">2</tspan><tspan x="564.57" textLength="9.46" lengthAdjust="spacingAndGlyphs">B</tspan><tspan x="574.22" textLength="9.46" lengthAdjust="spacingAndGlyphs">D</tspan><tspan x="583.87" textLength="9.46" lengthAdjust="spacingAndGlyphs">+</tspan><tspan x="593.52" textLength="9.46" lengthAdjust="spacingAndGlyphs">R</tspan><tspan x="603.17" textLength="9.46" lengthAdjust="spacingAndGlyphs">X</tspan><tspan x="612.82" textLength="9.46" lengthAdjust="spacingAndGlyphs">Z</tspan><tspan x="622.47" textLength="9.46" lengthAdjust="spacingAndGlyphs">E</tspan><tspan x="632.41" textLength="8.88" lengthAdjust="spacingAndGlyphs">1</tspan><tspan x="641.77" textLength="9.46" lengthAdjust="spacingAndGlyphs">M</tspan><tspan x="651.71" textLength="8.88" lengthAdjust="spacingAndGlyphs">4</tspan><tspan x="661.07" textLength="9.46" lengthAdjust="spacingAndGlyphs">C</tspan><tspan x="680.66" textLength="8.88" lengthAdjust="spacingAndGlyphs">2</tspan><tspan x="690.31" textLength="8.88" lengthAdjust="spacingAndGlyphs">4</tspan><tspan x="699.67" textLength="9.46" lengthAdjust="spacingAndGlyphs">V</tspan></text></g>
<text y="1423.5" font-size="29.76" stroke-width="0.24"><tspan x="847.86" textLength="8.88" lengthAdjust="spacingAndGlyphs">1</tspan></text>
<text y="1456.8" font-size="29.76" stroke-width="0.24"><tspan x="29.36" textLength="8.88" lengthAdjust="spacingAndGlyphs">4</tspan></text>
<text y="1456.8" font-size="29.76" stroke-width="0.24"><tspan x="141.05" textLength="9.46" lengthAdjust="spacingAndGlyphs">Q</tspan><tspan x="150.7" textLength="9.46" lengthAdjust="spacingAndGlyphs">F</tspan></text>
<g role="img" aria-label="塑壳断路器"><title>塑壳断路器</title><text y="1456.39" font-size="26" stroke-width="0.25"><tspan x="256.94" textLength="96.5" lengthAdjust="spacingAndGlyphs">塑壳断路器</tspan></text></g>
<g role="img" aria-label="NSX1200N DC TMDC 1200A 2P OF、SDE及MX 24V"><title>NSX1200N DC TMDC 1200A 2P OF、SDE及MX 24V</title><text y="1456.39" font-size="26" stroke-width="0.25"><tspan x="667.16" textLength="19.3" lengthAdjust="spacingAndGlyphs">、</tspan><tspan x="715.41" textLength="19.3" lengthAdjust="spacingAndGlyphs">及</tspan></text><text y="1456.8" font-size="29.76" stroke-width="0.24"><tspan x="396.67" textLength="9.46" lengthAdjust="spacingAndGlyphs">N</tspan><tspan x="406.32" textLength="9.46" lengthAdjust="spacingAndGlyphs">S</tspan><tspan x="415.97" textLength="9.46" lengthAdjust="spacingAndGlyphs">X</tspan><tspan x="425.91" textLength="8.88" lengthAdjust="spacingAndGlyphs">1</tspan><tspan x="435.56" textLength="8.88" lengthAdjust="spacingAndGlyphs">2</tspan><tspan x="445.21" textLength="8.88" lengthAdjust="spacingAndGlyphs">0</tspan><tspan x="454.86" textLength="8.88" lengthAdjust="spacingAndGlyphs">0</tspan><tspan x="464.22" textLength="9.46" lengthAdjust="spacingAndGlyphs">N</tspan><tspan x="483.52" textLength="9.46" lengthAdjust="spacingAndGlyphs">D</tspan><tspan x="493.17" textLength="9.46" lengthAdjust="spacingAndGlyphs">C</tspan><tspan x="512.47" textLength="9.46" lengthAdjust="spacingAndGlyphs">T</tspan><tspan x="522.12" textLength="9.46" lengthAdjust="spacingAndGlyphs">M</tspan><tspan x="531.77" textLength="9.46" lengthAdjust="spacingAndGlyphs">D</tspan><tspan x="541.42" textLength="9.46" lengthAdjust="spacingAndGlyphs">C</tspan><tspan x="561.01" textLength="8.88" lengthAdjust="spacingAndGlyphs">1</tspan><tspan x="570.66" textLength="8.88" lengthAdjust="spacingAndGlyphs">2</tspan><tspan x="580.31" textLength="8.88" lengthAdjust="spacingAndGlyphs">0</tspan><tspan x="589.96" textLength="8.88" lengthAdjust="spacingAndGlyphs">0</tspan><tspan x="599.32" textLength="9.46" lengthAdjust="spacingAndGlyphs">A</tspan><tspan x="618.91" textLength="8.88" lengthAdjust="spacingAndGlyphs">2</tspan><tspan x="628.27" textLength="9.46" lengthAdjust="spacingAndGlyphs">P</tspan><tspan x="647.57" textLength="9.46" lengthAdjust="spacingAndGlyphs">O</tspan><tspan x="657.22" textLength="9.46" lengthAdjust="spacingAndGlyphs">F</tspan><tspan x="686.17" textLength="9.46" lengthAdjust="spacingAndGlyphs">S</tspan><tspan x="695.82" textLength="9.46" lengthAdjust="spacingAndGlyphs">D</tspan><tspan x="705.47" textLength="9.46" lengthAdjust="spacingAndGlyphs">E</tspan><tspan x="734.42" textLength="9.46" lengthAdjust="spacingAndGlyphs">M</tspan><tspan x="744.07" textLength="9.46" lengthAdjust="spacingAndGlyphs">X</tspan><tspan x="763.66" textLength="8.88" lengthAdjust="spacingAndGlyphs">2</tspan><tspan x="773.31" textLength="8.88" lengthAdjust="spacingAndGlyphs">4</tspan><tspan x="782.67" textLength="9.46" lengthAdjust="spacingAndGlyphs">V</tspan></text></g>
<text y="1456.8" font-size="29.76" stroke-width="0.24"><tspan x="847.86" textLength="8.88" lengthAdjust="spacingAndGlyphs">1</tspan></text>
<g role="img" aria-label="施耐德"><title>施耐德</title><text y="1456.39" font-size="26" stroke-width="0.25"><tspan x="909.44" textLength="57.9" lengthAdjust="spacingAndGlyphs">施耐德</tspan></text></g>
<text y="1490.4" font-size="29.76" stroke-width="0.24"><tspan x="29.36" textLength="8.88" lengthAdjust="spacingAndGlyphs">3</tspan></text>
<text y="1490.4" font-size="29.76" stroke-width="0.24"><tspan x="126.57" textLength="9.46" lengthAdjust="spacingAndGlyphs">Q</tspan><tspan x="136.22" textLength="9.46" lengthAdjust="spacingAndGlyphs">F</tspan><tspan x="146.16" textLength="8.88" lengthAdjust="spacingAndGlyphs">1</tspan><tspan x="157.29" textLength="5.91" lengthAdjust="spacingAndGlyphs">˜</tspan><tspan x="165.46" textLength="8.88" lengthAdjust="spacingAndGlyphs">2</tspan></text>
<g role="img" aria-label="塑壳断路器"><title>塑壳断路器</title><text y="1489.99" font-size="26" stroke-width="0.25"><tspan x="256.94" textLength="96.5" lengthAdjust="spacingAndGlyphs">塑壳断路器</tspan></text></g>
<g role="img" aria-label="NSX630F DC TMDC 600A 3P OF、SDE及MX 24V"><title>NSX630F DC TMDC 600A 3P OF、SDE及MX 24V</title><text y="1489.99" font-size="26" stroke-width="0.25"><tspan x="646.61" textLength="19.3" lengthAdjust="spacingAndGlyphs">、</tspan><tspan x="694.86" textLength="19.3" lengthAdjust="spacingAndGlyphs">及</tspan></text><text y="1490.4" font-size="29.76" stroke-width="0.24"><tspan x="395.42" textLength="9.46" lengthAdjust="spacingAndGlyphs">N</tspan><tspan x="405.07" textLength="9.46" lengthAdjust="spacingAndGlyphs">S</tspan><tspan x="414.72" textLength="9.46" lengthAdjust="spacingAndGlyphs">X</tspan><tspan x="424.66" textLength="8.88" lengthAdjust="spacingAndGlyphs">6</tspan><tspan x="434.31" textLength="8.88" lengthAdjust="spacingAndGlyphs">3</tspan><tspan x="443.96" textLength="8.88" lengthAdjust="spacingAndGlyphs">0</tspan><tspan x="453.32" textLength="9.46" lengthAdjust="spacingAndGlyphs">F</tspan><tspan x="472.62" textLength="9.46" lengthAdjust="spacingAndGlyphs">D</tspan><tspan x="482.27" textLength="9.46" lengthAdjust="spacingAndGlyphs">C</tspan><tspan x="501.57" textLength="9.46" lengthAdjust="spacingAndGlyphs">T</tspan><tspan x="511.22" textLength="9.46" lengthAdjust="spacingAndGlyphs">M</tspan><tspan x="520.87" textLength="9.46" lengthAdjust="spacingAndGlyphs">D</tspan><tspan x="530.52" textLength="9.46" lengthAdjust="spacingAndGlyphs">C</tspan><tspan x="550.11" textLength="8.88" lengthAdjust="spacingAndGlyphs">6</tspan><tspan x="559.76" textLength="8.88" lengthAdjust="spacingAndGlyphs">0</tspan><tspan x="569.41" textLength="8.88" lengthAdjust="spacingAndGlyphs">0</tspan><tspan x="578.77" textLength="9.46" lengthAdjust="spacingAndGlyphs">A</tspan><tspan x="598.36" textLength="8.88" lengthAdjust="spacingAndGlyphs">3</tspan><tspan x="607.72" textLength="9.46" lengthAdjust="spacingAndGlyphs">P</tspan><tspan x="627.02" textLength="9.46" lengthAdjust="spacingAndGlyphs">O</tspan><tspan x="636.67" textLength="9.46" lengthAdjust="spacingAndGlyphs">F</tspan><tspan x="665.62" textLength="9.46" lengthAdjust="spacingAndGlyphs">S</tspan><tspan x="675.27" textLength="9.46" lengthAdjust="spacingAndGlyphs">D</tspan><tspan x="684.92" textLength="9.46" lengthAdjust="spacingAndGlyphs">E</tspan><tspan x="713.87" textLength="9.46" lengthAdjust="spacingAndGlyphs">M</tspan><tspan x="723.52" textLength="9.46" lengthAdjust="spacingAndGlyphs">X</tspan><tspan x="743.11" textLength="8.88" lengthAdjust="spacingAndGlyphs">2</tspan><tspan x="752.76" textLength="8.88" lengthAdjust="spacingAndGlyphs">4</tspan><tspan x="762.12" textLength="9.46" lengthAdjust="spacingAndGlyphs">V</tspan></text></g>
<text y="1490.4" font-size="29.76" stroke-width="0.24"><tspan x="847.86" textLength="8.88" lengthAdjust="spacingAndGlyphs">2</tspan></text>
<g role="img" aria-label="施耐德"><title>施耐德</title><text y="1489.99" font-size="26" stroke-width="0.25"><tspan x="909.44" textLength="57.9" lengthAdjust="spacingAndGlyphs">施耐德</tspan></text></g>
<text y="1523.7" font-size="29.76" stroke-width="0.24"><tspan x="29.36" textLength="8.88" lengthAdjust="spacingAndGlyphs">2</tspan></text>
<text y="1523.7" font-size="29.76" stroke-width="0.24"><tspan x="141.05" textLength="9.46" lengthAdjust="spacingAndGlyphs">F</tspan><tspan x="150.7" textLength="9.46" lengthAdjust="spacingAndGlyphs">U</tspan></text>
<g role="img" aria-label="熔断器"><title>熔断器</title><text y="1523.29" font-size="26" stroke-width="0.25"><tspan x="276.24" textLength="57.9" lengthAdjust="spacingAndGlyphs">熔断器</tspan></text></g>
<g role="img" aria-label="熔断器 RT28-32 6A 2P"><title>熔断器 RT28-32 6A 2P</title><text y="1523.29" font-size="26" stroke-width="0.25"><tspan x="486.79" textLength="57.9" lengthAdjust="spacingAndGlyphs">熔断器</tspan></text><text y="1523.7" font-size="29.76" stroke-width="0.24"><tspan x="554.05" textLength="9.46" lengthAdjust="spacingAndGlyphs">R</tspan><tspan x="563.7" textLength="9.46" lengthAdjust="spacingAndGlyphs">T</tspan><tspan x="573.64" textLength="8.88" lengthAdjust="spacingAndGlyphs">2</tspan><tspan x="583.29" textLength="8.88" lengthAdjust="spacingAndGlyphs">8</tspan><tspan x="592.94" textLength="8.88" lengthAdjust="spacingAndGlyphs">–</tspan><tspan x="602.59" textLength="8.88" lengthAdjust="spacingAndGlyphs">3</tspan><tspan x="612.24" textLength="8.88" lengthAdjust="spacingAndGlyphs">2</tspan><tspan x="631.54" textLength="8.88" lengthAdjust="spacingAndGlyphs">6</tspan><tspan x="640.9" textLength="9.46" lengthAdjust="spacingAndGlyphs">A</tspan><tspan x="660.49" textLength="8.88" lengthAdjust="spacingAndGlyphs">2</tspan><tspan x="669.85" textLength="9.46" lengthAdjust="spacingAndGlyphs">P</tspan></text></g>
<text y="1523.7" font-size="29.76" stroke-width="0.24"><tspan x="847.86" textLength="8.88" lengthAdjust="spacingAndGlyphs">1</tspan></text>
<g role="img" aria-label="国产"><title>国产</title><text y="1523.29" font-size="26" stroke-width="0.25"><tspan x="919.09" textLength="38.6" lengthAdjust="spacingAndGlyphs">国产</tspan></text></g>
<text y="1557.4" font-size="29.76" stroke-width="0.24"><tspan x="29.36" textLength="8.88" lengthAdjust="spacingAndGlyphs">1</tspan></text>
<text y="1557.4" font-size="29.76" stroke-width="0.24"><tspan x="141.05" textLength="9.46" lengthAdjust="spacingAndGlyphs">D</tspan><tspan x="150.7" textLength="9.46" lengthAdjust="spacingAndGlyphs">Y</tspan></text>
<g role="img" aria-label="电源模块"><title>电源模块</title><text y="1556.99" font-size="26" stroke-width="0.25"><tspan x="266.59" textLength="77.2" lengthAdjust="spacingAndGlyphs">电源模块</tspan></text></g>
<g role="img" aria-label="直流电源模块，PV350-29B24 24V"><title>直流电源模块，PV350-29B24 24V</title><text y="1556.99" font-size="26" stroke-width="0.25"><tspan x="438.16" textLength="135.1" lengthAdjust="spacingAndGlyphs">直流电源模块，</tspan></text><text y="1557.4" font-size="29.76" stroke-width="0.24"><tspan x="572.97" textLength="9.46" lengthAdjust="spacingAndGlyphs">P</tspan><tspan x="582.62" textLength="9.46" lengthAdjust="spacingAndGlyphs">V</tspan><tspan x="592.56" textLength="8.88" lengthAdjust="spacingAndGlyphs">3</tspan><tspan x="602.21" textLength="8.88" lengthAdjust="spacingAndGlyphs">5</tspan><tspan x="611.86" textLength="8.88" lengthAdjust="spacingAndGlyphs">0</tspan><tspan x="621.51" textLength="8.88" lengthAdjust="spacingAndGlyphs">–</tspan><tspan x="631.16" textLength="8.88" lengthAdjust="spacingAndGlyphs">2</tspan><tspan x="640.81" textLength="8.88" lengthAdjust="spacingAndGlyphs">9</tspan><tspan x="650.17" textLength="9.46" lengthAdjust="spacingAndGlyphs">B</tspan><tspan x="660.11" textLength="8.88" lengthAdjust="spacingAndGlyphs">2</tspan><tspan x="669.76" textLength="8.88" lengthAdjust="spacingAndGlyphs">4</tspan><tspan x="689.06" textLength="8.88" lengthAdjust="spacingAndGlyphs">2</tspan><tspan x="698.71" textLength="8.88" lengthAdjust="spacingAndGlyphs">4</tspan><tspan x="708.07" textLength="9.46" lengthAdjust="spacingAndGlyphs">V</tspan></text></g>
<text y="1557.4" font-size="29.76" stroke-width="0.24"><tspan x="847.86" textLength="8.88" lengthAdjust="spacingAndGlyphs">1</tspan></text>
<g role="img" aria-label="金升阳"><title>金升阳</title><text y="1556.99" font-size="26" stroke-width="0.25"><tspan x="909.44" textLength="57.9" lengthAdjust="spacingAndGlyphs">金升阳</tspan></text></g>
<g role="img" aria-label="序号"><title>序号</title><text y="1590.59" font-size="26" stroke-width="0.25"><tspan x="14.89" textLength="38.6" lengthAdjust="spacingAndGlyphs">序号</tspan></text></g>
<g role="img" aria-label="代号"><title>代号</title><text y="1590.59" font-size="26" stroke-width="0.25"><tspan x="131.69" textLength="38.6" lengthAdjust="spacingAndGlyphs">代号</tspan></text></g>
<g role="img" aria-label="元件名称"><title>元件名称</title><text y="1590.59" font-size="26" stroke-width="0.25"><tspan x="266.59" textLength="77.2" lengthAdjust="spacingAndGlyphs">元件名称</tspan></text></g>
<g role="img" aria-label="型号规格"><title>型号规格</title><text y="1590.59" font-size="26" stroke-width="0.25"><tspan x="543.89" textLength="77.2" lengthAdjust="spacingAndGlyphs">型号规格</tspan></text></g>
<g role="img" aria-label="数量"><title>数量</title><text y="1590.59" font-size="26" stroke-width="0.25"><tspan x="833.39" textLength="38.6" lengthAdjust="spacingAndGlyphs">数量</tspan></text></g>
<g role="img" aria-label="备注"><title>备注</title><text y="1590.59" font-size="26" stroke-width="0.25"><tspan x="919.09" textLength="38.6" lengthAdjust="spacingAndGlyphs">备注</tspan></text></g>
<g role="img" aria-label="设"><title>设</title><text y="1635.14" font-size="28.8" stroke-width="0.17"><tspan x="401.3" textLength="22.5" lengthAdjust="spacingAndGlyphs">设</tspan></text></g>
<g role="img" aria-label="备"><title>备</title><text y="1635.14" font-size="28.8" stroke-width="0.17"><tspan x="446.5" textLength="22.5" lengthAdjust="spacingAndGlyphs">备</tspan></text></g>
<g role="img" aria-label="材"><title>材</title><text y="1635.14" font-size="28.8" stroke-width="0.17"><tspan x="490.2" textLength="22.5" lengthAdjust="spacingAndGlyphs">材</tspan></text></g>
<g role="img" aria-label="料"><title>料</title><text y="1635.14" font-size="28.8" stroke-width="0.17"><tspan x="535" textLength="22.5" lengthAdjust="spacingAndGlyphs">料</tspan></text></g>
<g role="img" aria-label="表"><title>表</title><text y="1635.14" font-size="28.8" stroke-width="0.17"><tspan x="580.7" textLength="22.5" lengthAdjust="spacingAndGlyphs">表</tspan></text></g>
<path d="M1309.6 1395L1309.6 1623.2" stroke-width="4"/>
<path d="M1307.6 1396L2315 1396" stroke-width="2"/>
<path d="M1309 1489L2312 1489" stroke-width="2"/>
<path d="M1309 1534L1810.8 1534" stroke-width="2"/>
<path d="M1309 1579L2312 1579" stroke-width="2"/>
<path d="M1307.6 1622.6L2312 1622.6" stroke-width="2"/>
<path d="M1392.8 1489L1392.8 1622.6" stroke-width="2"/>
<path d="M1560 1489L1560 1622.6" stroke-width="2"/>
<path d="M1642.8 1489L1642.8 1622.6" stroke-width="2"/>
<path d="M1809.8 1396L1809.8 1622.6" stroke-width="2"/>
<path d="M1893.3 1579L1893.3 1622.6" stroke-width="2"/>
<g role="img" aria-label="批准"><title>批准</title><text y="1521.04" font-size="29.3" stroke-width="0.17"><tspan x="1326.94" textLength="44.4" lengthAdjust="spacingAndGlyphs">批准</tspan></text></g>
<g role="img" aria-label="审核"><title>审核</title><text y="1566.34" font-size="29.3" stroke-width="0.17"><tspan x="1326.94" textLength="44.4" lengthAdjust="spacingAndGlyphs">审核</tspan></text></g>
<g role="img" aria-label="版次"><title>版次</title><text y="1612.24" font-size="29.3" stroke-width="0.17"><tspan x="1329.94" textLength="44.4" lengthAdjust="spacingAndGlyphs">版次</tspan></text></g>
<g role="img" aria-label="制图"><title>制图</title><text y="1521.34" font-size="29.3" stroke-width="0.17"><tspan x="1578.44" textLength="44.4" lengthAdjust="spacingAndGlyphs">制图</tspan></text></g>
<g role="img" aria-label="设计"><title>设计</title><text y="1566.34" font-size="29.3" stroke-width="0.17"><tspan x="1578.44" textLength="44.4" lengthAdjust="spacingAndGlyphs">设计</tspan></text></g>
<g role="img" aria-label="日期"><title>日期</title><text y="1612.24" font-size="29.3" stroke-width="0.17"><tspan x="1578.44" textLength="44.4" lengthAdjust="spacingAndGlyphs">日期</tspan></text></g>
<g role="img" aria-label="第一版"><title>第一版</title><text y="1612.78" font-size="26.4" stroke-width="0.25"><tspan x="1446.9" textLength="60" lengthAdjust="spacingAndGlyphs">第一版</tspan></text></g>
<text y="1613.3" font-size="33.07" stroke-width="0.16"><tspan x="1688.4" textLength="9.11" lengthAdjust="spacingAndGlyphs">2</tspan><tspan x="1698.3" textLength="9.11" lengthAdjust="spacingAndGlyphs">0</tspan><tspan x="1708.2" textLength="9.11" lengthAdjust="spacingAndGlyphs">2</tspan><tspan x="1718.1" textLength="9.11" lengthAdjust="spacingAndGlyphs">2</tspan><tspan x="1730.27" textLength="4.55" lengthAdjust="spacingAndGlyphs">.</tspan><tspan x="1737.9" textLength="9.11" lengthAdjust="spacingAndGlyphs">1</tspan></text>
<g role="img" aria-label="图号"><title>图号</title><text y="1610.14" font-size="29.3" stroke-width="0.17"><tspan x="1829.34" textLength="44.4" lengthAdjust="spacingAndGlyphs">图号</tspan></text></g>
<g role="img" aria-label="天科合达新建第三代半导体碳化硅衬底"><title>天科合达新建第三代半导体碳化硅衬底</title><text y="1431.43" font-size="36" stroke-width="0.17"><tspan x="1824.06" textLength="471.9" lengthAdjust="spacingAndGlyphs">天科合达新建第三代半导体碳化硅衬底</tspan></text></g>
<g role="img" aria-label="产业化基地建设项目"><title>产业化基地建设项目</title><text y="1481.73" font-size="36" stroke-width="0.17"><tspan x="1824.06" textLength="249.8" lengthAdjust="spacingAndGlyphs">产业化基地建设项目</tspan></text></g>
<g role="img" aria-label="电池开关柜原理接线图"><title>电池开关柜原理接线图</title><text y="1541.65" font-size="34.5" stroke-width="0.16"><tspan x="1949.11" textLength="252.6" lengthAdjust="spacingAndGlyphs">电池开关柜原理接线图</tspan></text></g>
</g>
</svg>
</body></html>
